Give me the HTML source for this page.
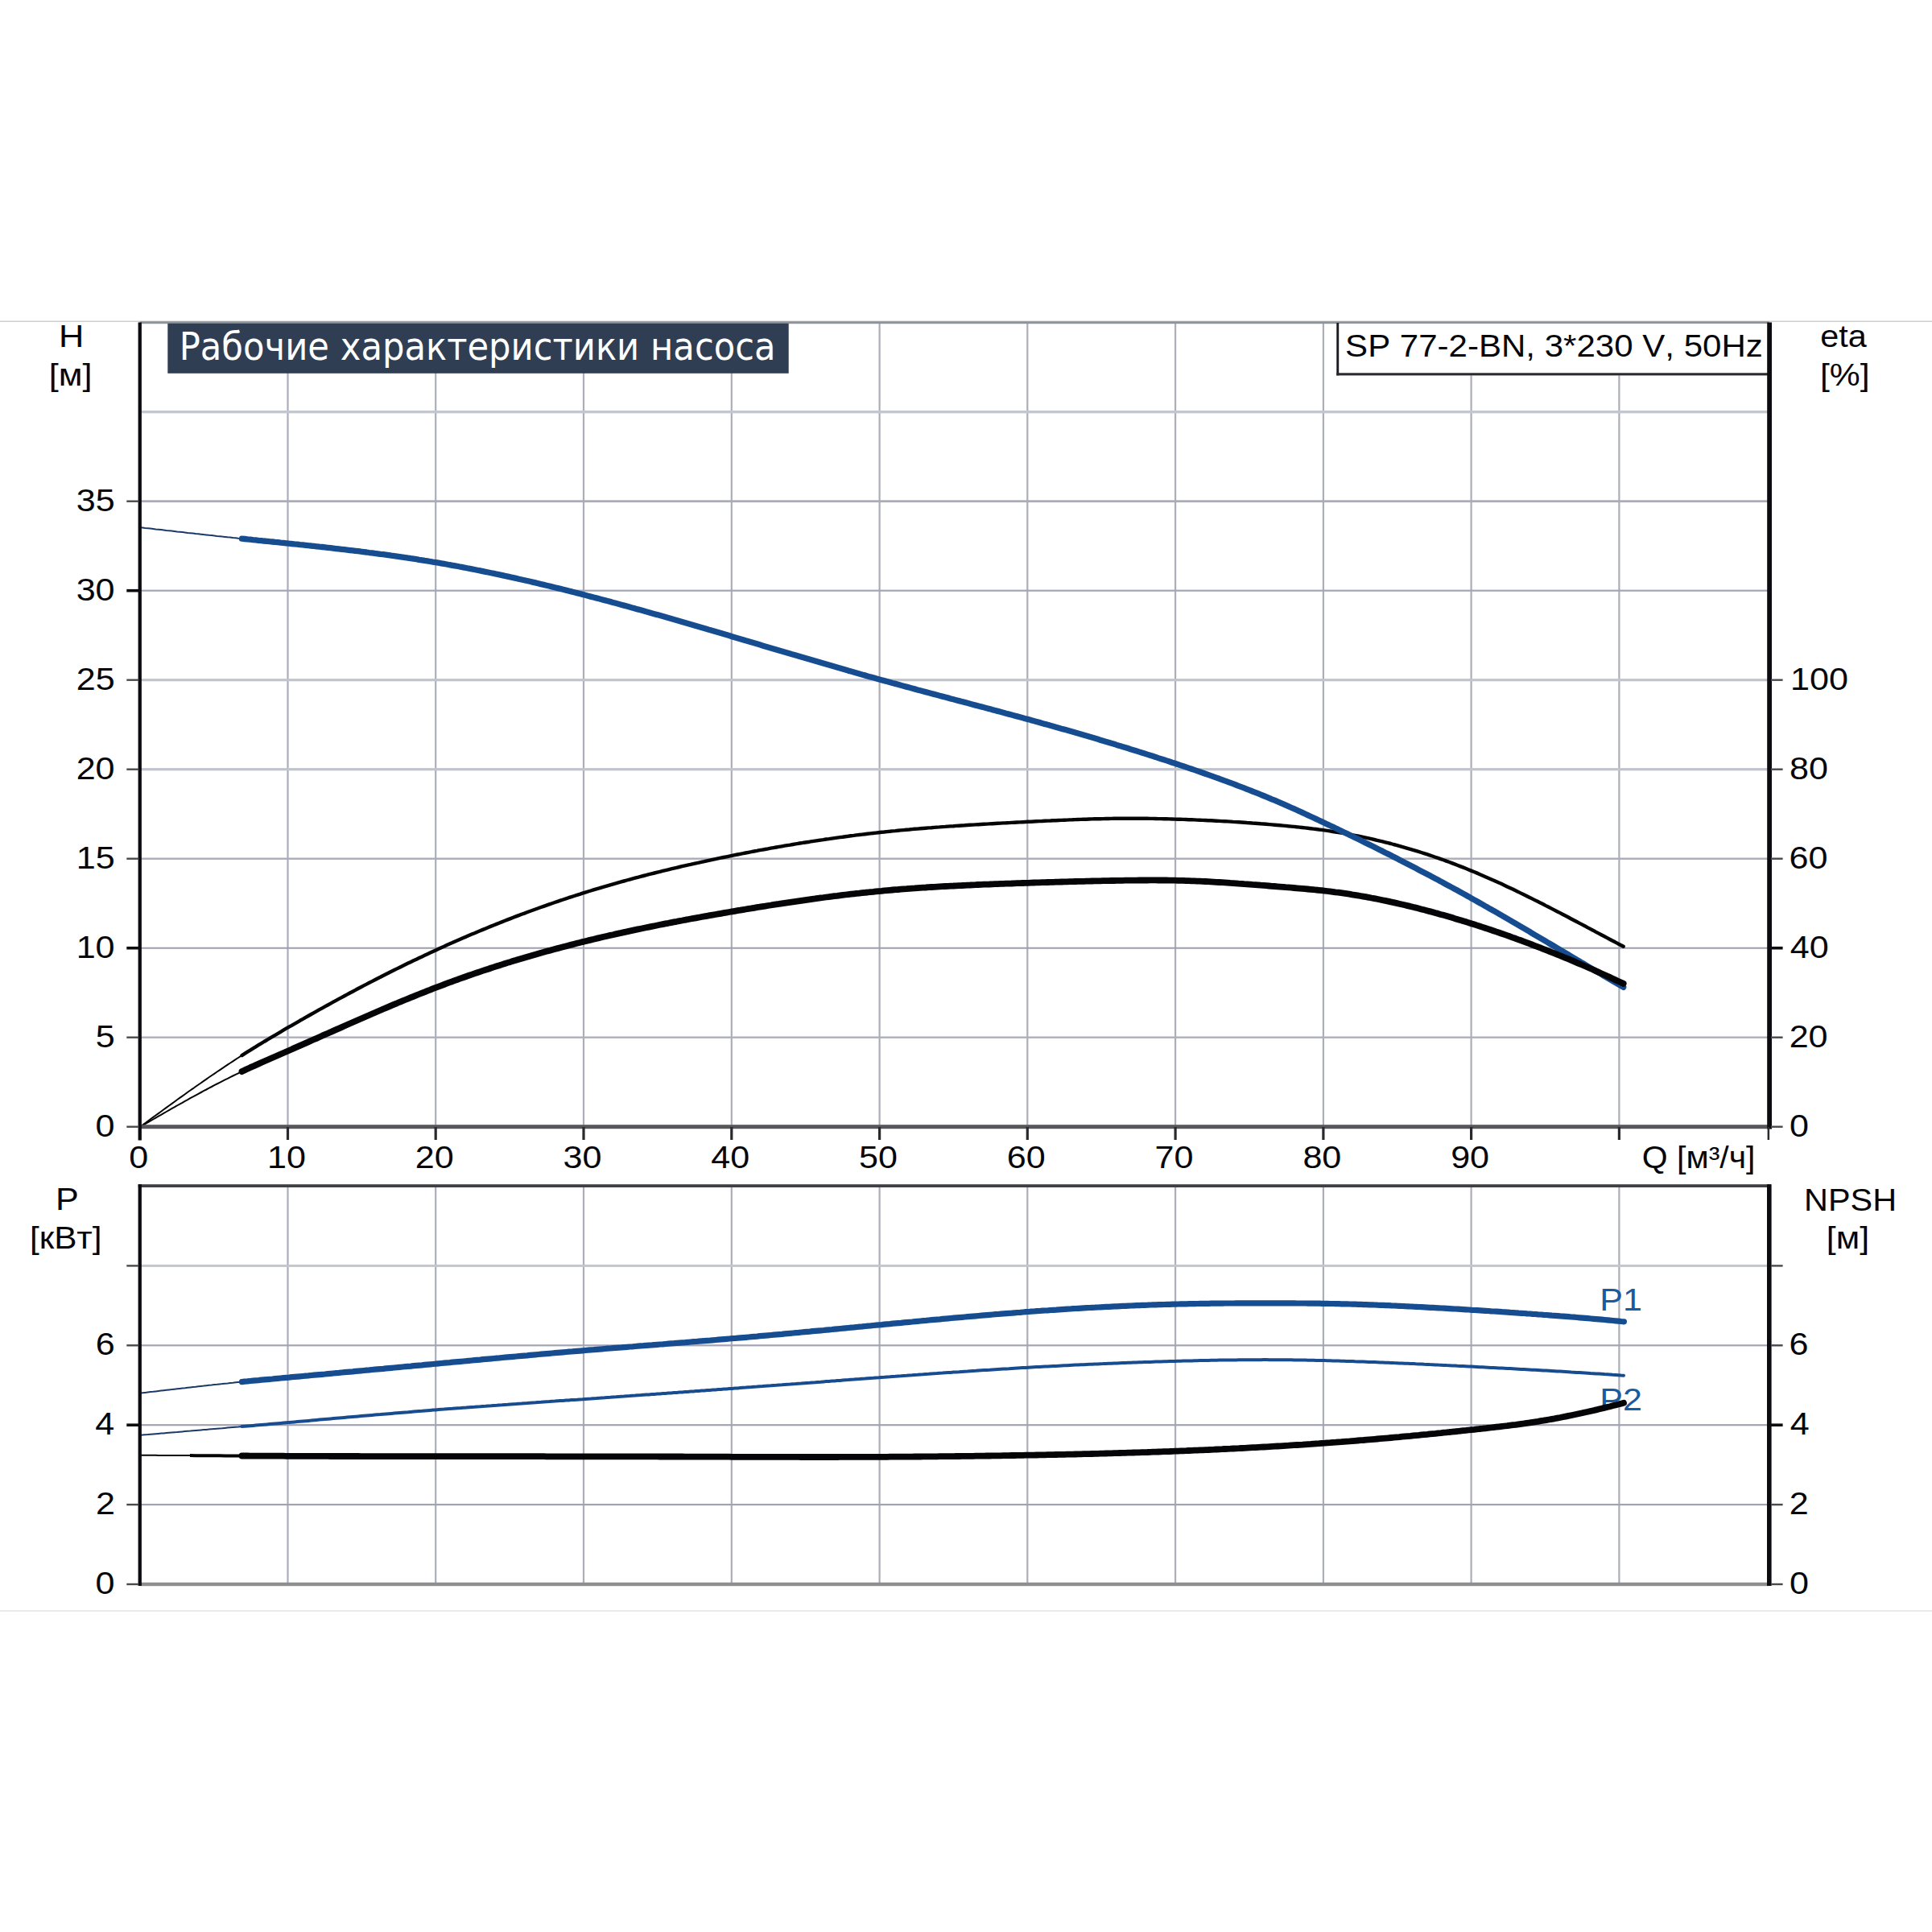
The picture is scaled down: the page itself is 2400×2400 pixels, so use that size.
<!DOCTYPE html>
<html lang="ru"><head><meta charset="utf-8"><title>Рабочие характеристики насоса</title>
<style>html,body{margin:0;padding:0;background:#fff;overflow:hidden}svg{display:block}</style></head>
<body>
<svg width="2400" height="2400" viewBox="0 0 2400 2400">
<rect width="2400" height="2400" fill="#ffffff"/>
<rect x="0" y="398.5" width="2400" height="1.5" fill="#c9d0d4"/>
<rect x="0" y="2000.3" width="2400" height="1.6" fill="#e3e6e9"/>
<rect x="356.4" y="400.5" width="2.2" height="999.2" fill="#abaeb9"/>
<rect x="540.1" y="400.5" width="2.2" height="999.2" fill="#abaeb9"/>
<rect x="723.9" y="400.5" width="2.2" height="999.2" fill="#abaeb9"/>
<rect x="907.7" y="400.5" width="2.2" height="999.2" fill="#abaeb9"/>
<rect x="1091.5" y="400.5" width="2.2" height="999.2" fill="#abaeb9"/>
<rect x="1275.2" y="400.5" width="2.2" height="999.2" fill="#abaeb9"/>
<rect x="1459.0" y="400.5" width="2.2" height="999.2" fill="#abaeb9"/>
<rect x="1642.8" y="400.5" width="2.2" height="999.2" fill="#abaeb9"/>
<rect x="1826.5" y="400.5" width="2.2" height="999.2" fill="#abaeb9"/>
<rect x="2010.3" y="400.5" width="2.2" height="999.2" fill="#abaeb9"/>
<rect x="173.7" y="1287.5" width="2024.1" height="2.4" fill="#adb0bc"/>
<rect x="173.7" y="1176.7" width="2024.1" height="2.0" fill="#9b9dab"/>
<rect x="173.7" y="1065.5" width="2024.1" height="2.4" fill="#aaadb9"/>
<rect x="173.7" y="954.1" width="2024.1" height="3.2" fill="#c0c4cd"/>
<rect x="173.7" y="843.1" width="2024.1" height="3.2" fill="#c0c4cd"/>
<rect x="173.7" y="732.6" width="2024.1" height="2.2" fill="#a3a6b3"/>
<rect x="173.7" y="621.3" width="2024.1" height="2.8" fill="#a9acb8"/>
<rect x="173.7" y="510.0" width="2024.1" height="3.4" fill="#c3c7d0"/>
<rect x="173.7" y="399.2" width="2024.1" height="3" fill="#8e9499"/>
<rect x="356.4" y="1472.4" width="2.2" height="495.6" fill="#abaeb9"/>
<rect x="540.1" y="1472.4" width="2.2" height="495.6" fill="#abaeb9"/>
<rect x="723.9" y="1472.4" width="2.2" height="495.6" fill="#abaeb9"/>
<rect x="907.7" y="1472.4" width="2.2" height="495.6" fill="#abaeb9"/>
<rect x="1091.5" y="1472.4" width="2.2" height="495.6" fill="#abaeb9"/>
<rect x="1275.2" y="1472.4" width="2.2" height="495.6" fill="#abaeb9"/>
<rect x="1459.0" y="1472.4" width="2.2" height="495.6" fill="#abaeb9"/>
<rect x="1642.8" y="1472.4" width="2.2" height="495.6" fill="#abaeb9"/>
<rect x="1826.5" y="1472.4" width="2.2" height="495.6" fill="#abaeb9"/>
<rect x="2010.3" y="1472.4" width="2.2" height="495.6" fill="#abaeb9"/>
<rect x="173.7" y="1868.0" width="2024.1" height="2.2" fill="#a1a3b1"/>
<rect x="173.7" y="1769.1" width="2024.1" height="2.2" fill="#a1a3b1"/>
<rect x="173.7" y="1670.2" width="2024.1" height="2.2" fill="#a3a5b2"/>
<rect x="173.7" y="1570.9" width="2024.1" height="3.0" fill="#c2c6cf"/>
<rect x="208.3" y="401.8" width="771.4" height="62" fill="#2f3e53"/>
<rect x="1660.3" y="402" width="536" height="64.4" fill="#ffffff"/>
<rect x="1660.3" y="401" width="2.9" height="65.4" fill="#1c1c20"/>
<rect x="1660.3" y="463.3" width="536" height="3.1" fill="#2a2a2e"/>
<text transform="translate(1987.36,1627.6) scale(1.1342,1)" font-size="38" fill="#1a5aa0" font-family='"Liberation Sans", sans-serif' style="font-kerning:none" >P1</text>
<text transform="translate(1987.36,1752.0) scale(1.1342,1)" font-size="38" fill="#1a5aa0" font-family='"Liberation Sans", sans-serif' style="font-kerning:none" >P2</text>
<path d="M173.7,1400.0 L177.0,1397.6 L180.3,1395.2 L183.6,1392.7 L186.9,1390.3 L190.2,1387.9 L193.5,1385.5 L196.8,1383.1 L200.1,1380.7 L203.4,1378.3 L206.7,1375.9 L210.0,1373.5 L213.3,1371.1 L216.6,1368.7 L219.9,1366.3 L223.2,1363.9 L226.5,1361.6 L229.8,1359.2 L233.1,1356.8 L236.4,1354.5 L239.8,1352.2 L243.1,1349.8 L246.4,1347.5 L249.7,1345.2 L253.0,1342.9 L256.3,1340.6 L259.6,1338.3 L262.9,1336.0 L266.2,1333.8 L269.5,1331.5 L272.8,1329.3 L276.1,1327.1 L279.4,1324.9 L282.7,1322.7 L286.0,1320.5 L289.3,1318.3 L292.6,1316.2 L295.9,1314.0 L299.2,1311.9 L302.5,1309.8" fill="none" stroke="#050507" stroke-width="2.0"/>
<path d="M300.5,1311.1 L303.9,1308.9 L307.4,1306.7 L310.8,1304.6 L314.3,1302.4 L317.7,1300.3 L321.1,1298.2 L324.6,1296.1 L328.0,1294.0 L331.5,1292.0 L334.9,1289.9 L338.3,1287.8 L341.8,1285.8 L345.2,1283.8 L348.6,1281.8 L352.1,1279.7 L355.5,1277.7 L359.0,1275.7 L362.4,1273.8 L365.8,1271.8 L369.3,1269.8 L372.7,1267.8 L376.2,1265.9 L379.6,1263.9 L383.0,1262.0 L386.5,1260.0 L389.9,1258.1 L393.4,1256.1 L396.8,1254.2 L400.2,1252.3 L403.7,1250.4 L407.1,1248.5 L410.6,1246.6 L414.0,1244.7 L417.4,1242.8 L420.9,1240.9 L424.3,1239.1 L427.8,1237.2 L431.2,1235.4 L434.6,1233.5 L438.1,1231.7 L441.5,1229.9 L444.9,1228.0 L448.4,1226.2 L451.8,1224.4 L455.3,1222.6 L458.7,1220.8 L462.1,1219.1 L465.6,1217.3 L469.0,1215.5 L472.5,1213.8 L475.9,1212.0 L479.3,1210.3 L482.8,1208.5 L486.2,1206.8 L489.7,1205.1 L493.1,1203.4 L496.5,1201.7 L500.0,1200.0 L503.4,1198.3 L506.9,1196.6 L510.3,1195.0 L513.7,1193.3 L517.2,1191.7 L520.6,1190.0 L524.1,1188.4 L527.5,1186.8 L530.9,1185.2 L534.4,1183.6 L537.8,1182.0 L541.2,1180.4 L544.7,1178.8 L548.1,1177.2 L551.6,1175.7 L555.0,1174.1 L558.4,1172.6 L561.9,1171.1 L565.3,1169.5 L568.8,1168.0 L572.2,1166.5 L575.6,1165.0 L579.1,1163.6 L582.5,1162.1 L586.0,1160.6 L589.4,1159.2 L592.8,1157.7 L596.3,1156.3 L599.7,1154.9 L603.2,1153.4 L606.6,1152.0 L610.0,1150.6 L613.5,1149.2 L616.9,1147.9 L620.4,1146.5 L623.8,1145.1 L627.2,1143.8 L630.7,1142.4 L634.1,1141.1 L637.5,1139.8 L641.0,1138.4 L644.4,1137.1 L647.9,1135.8 L651.3,1134.6 L654.7,1133.3 L658.2,1132.0 L661.6,1130.8 L665.1,1129.5 L668.5,1128.3 L671.9,1127.0 L675.4,1125.8 L678.8,1124.6 L682.3,1123.4 L685.7,1122.2 L689.1,1121.0 L692.6,1119.8 L696.0,1118.7 L699.5,1117.5 L702.9,1116.4 L706.3,1115.2 L709.8,1114.1 L713.2,1113.0 L716.7,1111.9 L720.1,1110.8 L723.5,1109.7 L727.0,1108.6 L730.4,1107.5 L733.8,1106.5 L737.3,1105.4 L740.7,1104.4 L744.2,1103.4 L747.6,1102.3 L751.0,1101.3 L754.5,1100.3 L757.9,1099.3 L761.4,1098.3 L764.8,1097.4 L768.2,1096.4 L771.7,1095.4 L775.1,1094.5 L778.6,1093.5 L782.0,1092.6 L785.4,1091.7 L788.9,1090.7 L792.3,1089.8 L795.8,1088.9 L799.2,1088.0 L802.6,1087.1 L806.1,1086.2 L809.5,1085.4 L813.0,1084.5 L816.4,1083.6 L819.8,1082.8 L823.3,1081.9 L826.7,1081.1 L830.1,1080.3 L833.6,1079.4 L837.0,1078.6 L840.5,1077.8 L843.9,1077.0 L847.3,1076.2 L850.8,1075.4 L854.2,1074.6 L857.7,1073.9 L861.1,1073.1 L864.5,1072.3 L868.0,1071.6 L871.4,1070.8 L874.9,1070.1 L878.3,1069.3 L881.7,1068.6 L885.2,1067.8 L888.6,1067.1 L892.1,1066.4 L895.5,1065.7 L898.9,1065.0 L902.4,1064.3 L905.8,1063.6 L909.3,1062.9 L912.7,1062.2 L916.1,1061.5 L919.6,1060.8 L923.0,1060.2 L926.4,1059.5 L929.9,1058.8 L933.3,1058.2 L936.8,1057.5 L940.2,1056.9 L943.6,1056.2 L947.1,1055.6 L950.5,1055.0 L954.0,1054.4 L957.4,1053.7 L960.8,1053.1 L964.3,1052.5 L967.7,1051.9 L971.2,1051.3 L974.6,1050.7 L978.0,1050.1 L981.5,1049.6 L984.9,1049.0 L988.4,1048.4 L991.8,1047.8 L995.2,1047.3 L998.7,1046.7 L1002.1,1046.2 L1005.6,1045.7 L1009.0,1045.1 L1012.4,1044.6 L1015.9,1044.1 L1019.3,1043.6 L1022.7,1043.1 L1026.2,1042.5 L1029.6,1042.1 L1033.1,1041.6 L1036.5,1041.1 L1039.9,1040.6 L1043.4,1040.1 L1046.8,1039.7 L1050.3,1039.2 L1053.7,1038.8 L1057.1,1038.3 L1060.6,1037.9 L1064.0,1037.4 L1067.5,1037.0 L1070.9,1036.6 L1074.3,1036.2 L1077.8,1035.8 L1081.2,1035.4 L1084.7,1035.0 L1088.1,1034.6 L1091.5,1034.2 L1095.0,1033.8 L1098.4,1033.5 L1101.9,1033.1 L1105.3,1032.8 L1108.7,1032.4 L1112.2,1032.1 L1115.6,1031.7 L1119.0,1031.4 L1122.5,1031.1 L1125.9,1030.8 L1129.4,1030.5 L1132.8,1030.1 L1136.2,1029.8 L1139.7,1029.6 L1143.1,1029.3 L1146.6,1029.0 L1150.0,1028.7 L1153.4,1028.4 L1156.9,1028.2 L1160.3,1027.9 L1163.8,1027.6 L1167.2,1027.4 L1170.6,1027.1 L1174.1,1026.9 L1177.5,1026.6 L1181.0,1026.4 L1184.4,1026.2 L1187.8,1025.9 L1191.3,1025.7 L1194.7,1025.5 L1198.2,1025.3 L1201.6,1025.0 L1205.0,1024.8 L1208.5,1024.6 L1211.9,1024.4 L1215.3,1024.2 L1218.8,1024.0 L1222.2,1023.8 L1225.7,1023.6 L1229.1,1023.4 L1232.5,1023.2 L1236.0,1023.0 L1239.4,1022.8 L1242.9,1022.6 L1246.3,1022.4 L1249.7,1022.3 L1253.2,1022.1 L1256.6,1021.9 L1260.1,1021.7 L1263.5,1021.5 L1266.9,1021.4 L1270.4,1021.2 L1273.8,1021.0 L1277.3,1020.8 L1280.7,1020.7 L1284.1,1020.5 L1287.6,1020.3 L1291.0,1020.1 L1294.5,1020.0 L1297.9,1019.8 L1301.3,1019.6 L1304.8,1019.5 L1308.2,1019.3 L1311.6,1019.2 L1315.1,1019.0 L1318.5,1018.9 L1322.0,1018.7 L1325.4,1018.6 L1328.8,1018.4 L1332.3,1018.3 L1335.7,1018.1 L1339.2,1018.0 L1342.6,1017.9 L1346.0,1017.8 L1349.5,1017.7 L1352.9,1017.5 L1356.4,1017.4 L1359.8,1017.3 L1363.2,1017.3 L1366.7,1017.2 L1370.1,1017.1 L1373.6,1017.0 L1377.0,1017.0 L1380.4,1016.9 L1383.9,1016.8 L1387.3,1016.8 L1390.8,1016.8 L1394.2,1016.7 L1397.6,1016.7 L1401.1,1016.7 L1404.5,1016.7 L1407.9,1016.7 L1411.4,1016.7 L1414.8,1016.7 L1418.3,1016.8 L1421.7,1016.8 L1425.1,1016.8 L1428.6,1016.9 L1432.0,1016.9 L1435.5,1017.0 L1438.9,1017.1 L1442.3,1017.1 L1445.8,1017.2 L1449.2,1017.3 L1452.7,1017.4 L1456.1,1017.5 L1459.5,1017.6 L1463.0,1017.7 L1466.4,1017.8 L1469.9,1017.9 L1473.3,1018.0 L1476.7,1018.2 L1480.2,1018.3 L1483.6,1018.4 L1487.1,1018.6 L1490.5,1018.7 L1493.9,1018.9 L1497.4,1019.0 L1500.8,1019.2 L1504.2,1019.3 L1507.7,1019.5 L1511.1,1019.7 L1514.6,1019.9 L1518.0,1020.1 L1521.4,1020.2 L1524.9,1020.4 L1528.3,1020.6 L1531.8,1020.9 L1535.2,1021.1 L1538.6,1021.3 L1542.1,1021.5 L1545.5,1021.7 L1549.0,1022.0 L1552.4,1022.2 L1555.8,1022.5 L1559.3,1022.7 L1562.7,1023.0 L1566.2,1023.3 L1569.6,1023.5 L1573.0,1023.8 L1576.5,1024.1 L1579.9,1024.4 L1583.4,1024.7 L1586.8,1025.0 L1590.2,1025.3 L1593.7,1025.6 L1597.1,1025.9 L1600.5,1026.3 L1604.0,1026.6 L1607.4,1026.9 L1610.9,1027.3 L1614.3,1027.6 L1617.7,1028.0 L1621.2,1028.4 L1624.6,1028.8 L1628.1,1029.2 L1631.5,1029.6 L1634.9,1030.0 L1638.4,1030.5 L1641.8,1030.9 L1645.3,1031.4 L1648.7,1031.9 L1652.1,1032.4 L1655.6,1033.0 L1659.0,1033.5 L1662.5,1034.1 L1665.9,1034.6 L1669.3,1035.2 L1672.8,1035.9 L1676.2,1036.5 L1679.7,1037.1 L1683.1,1037.8 L1686.5,1038.5 L1690.0,1039.2 L1693.4,1039.9 L1696.8,1040.6 L1700.3,1041.4 L1703.7,1042.2 L1707.2,1043.0 L1710.6,1043.8 L1714.0,1044.6 L1717.5,1045.4 L1720.9,1046.3 L1724.4,1047.2 L1727.8,1048.0 L1731.2,1049.0 L1734.7,1049.9 L1738.1,1050.8 L1741.6,1051.8 L1745.0,1052.8 L1748.4,1053.8 L1751.9,1054.8 L1755.3,1055.8 L1758.8,1056.9 L1762.2,1057.9 L1765.6,1059.0 L1769.1,1060.1 L1772.5,1061.2 L1776.0,1062.4 L1779.4,1063.5 L1782.8,1064.7 L1786.3,1065.9 L1789.7,1067.1 L1793.1,1068.3 L1796.6,1069.6 L1800.0,1070.8 L1803.5,1072.1 L1806.9,1073.4 L1810.3,1074.7 L1813.8,1076.1 L1817.2,1077.4 L1820.7,1078.8 L1824.1,1080.2 L1827.5,1081.6 L1831.0,1083.0 L1834.4,1084.4 L1837.9,1085.9 L1841.3,1087.4 L1844.7,1088.9 L1848.2,1090.4 L1851.6,1091.9 L1855.1,1093.4 L1858.5,1095.0 L1861.9,1096.6 L1865.4,1098.1 L1868.8,1099.7 L1872.3,1101.4 L1875.7,1103.0 L1879.1,1104.6 L1882.6,1106.3 L1886.0,1107.9 L1889.4,1109.6 L1892.9,1111.3 L1896.3,1113.0 L1899.8,1114.7 L1903.2,1116.4 L1906.6,1118.1 L1910.1,1119.8 L1913.5,1121.6 L1917.0,1123.3 L1920.4,1125.1 L1923.8,1126.8 L1927.3,1128.6 L1930.7,1130.4 L1934.2,1132.2 L1937.6,1133.9 L1941.0,1135.7 L1944.5,1137.5 L1947.9,1139.3 L1951.4,1141.2 L1954.8,1143.0 L1958.2,1144.8 L1961.7,1146.6 L1965.1,1148.4 L1968.6,1150.2 L1972.0,1152.1 L1975.4,1153.9 L1978.9,1155.7 L1982.3,1157.6 L1985.7,1159.4 L1989.2,1161.2 L1992.6,1163.0 L1996.1,1164.9 L1999.5,1166.7 L2002.9,1168.5 L2006.4,1170.3 L2009.8,1172.2 L2013.3,1174.0 L2016.7,1175.8" fill="none" stroke="#050507" stroke-width="4.4" stroke-linecap="round" stroke-linejoin="round"/>
<path d="M173.7,655.1 L177.0,655.5 L180.3,655.9 L183.6,656.2 L186.9,656.6 L190.2,657.0 L193.5,657.4 L196.8,657.7 L200.1,658.1 L203.4,658.5 L206.7,658.9 L210.0,659.2 L213.3,659.6 L216.6,660.0 L219.9,660.4 L223.2,660.7 L226.5,661.1 L229.8,661.5 L233.1,661.9 L236.4,662.2 L239.8,662.6 L243.1,663.0 L246.4,663.3 L249.7,663.7 L253.0,664.1 L256.3,664.4 L259.6,664.8 L262.9,665.1 L266.2,665.5 L269.5,665.9 L272.8,666.2 L276.1,666.6 L279.4,666.9 L282.7,667.3 L286.0,667.6 L289.3,668.0 L292.6,668.3 L295.9,668.7 L299.2,669.0 L302.5,669.4" fill="none" stroke="#1b3866" stroke-width="2.0"/>
<path d="M300.5,669.2 L303.9,669.5 L307.4,669.9 L310.8,670.2 L314.3,670.6 L317.7,670.9 L321.1,671.3 L324.6,671.6 L328.0,672.0 L331.5,672.3 L334.9,672.7 L338.3,673.0 L341.8,673.4 L345.2,673.7 L348.6,674.1 L352.1,674.4 L355.5,674.8 L359.0,675.2 L362.4,675.5 L365.8,675.9 L369.3,676.2 L372.7,676.6 L376.2,676.9 L379.6,677.3 L383.0,677.7 L386.5,678.0 L389.9,678.4 L393.4,678.8 L396.8,679.2 L400.2,679.5 L403.7,679.9 L407.1,680.3 L410.6,680.7 L414.0,681.1 L417.4,681.5 L420.9,681.9 L424.3,682.3 L427.8,682.7 L431.2,683.1 L434.6,683.5 L438.1,683.9 L441.5,684.3 L444.9,684.7 L448.4,685.2 L451.8,685.6 L455.3,686.0 L458.7,686.5 L462.1,686.9 L465.6,687.4 L469.0,687.8 L472.5,688.3 L475.9,688.7 L479.3,689.2 L482.8,689.7 L486.2,690.2 L489.7,690.6 L493.1,691.1 L496.5,691.6 L500.0,692.1 L503.4,692.6 L506.9,693.1 L510.3,693.7 L513.7,694.2 L517.2,694.7 L520.6,695.3 L524.1,695.8 L527.5,696.4 L530.9,696.9 L534.4,697.5 L537.8,698.1 L541.2,698.6 L544.7,699.2 L548.1,699.8 L551.6,700.4 L555.0,701.0 L558.4,701.7 L561.9,702.3 L565.3,702.9 L568.8,703.5 L572.2,704.2 L575.6,704.8 L579.1,705.5 L582.5,706.2 L586.0,706.8 L589.4,707.5 L592.8,708.2 L596.3,708.9 L599.7,709.6 L603.2,710.3 L606.6,711.0 L610.0,711.7 L613.5,712.4 L616.9,713.2 L620.4,713.9 L623.8,714.6 L627.2,715.4 L630.7,716.1 L634.1,716.9 L637.5,717.6 L641.0,718.4 L644.4,719.2 L647.9,720.0 L651.3,720.7 L654.7,721.5 L658.2,722.3 L661.6,723.1 L665.1,723.9 L668.5,724.7 L671.9,725.6 L675.4,726.4 L678.8,727.2 L682.3,728.0 L685.7,728.9 L689.1,729.7 L692.6,730.6 L696.0,731.4 L699.5,732.3 L702.9,733.1 L706.3,734.0 L709.8,734.9 L713.2,735.7 L716.7,736.6 L720.1,737.5 L723.5,738.4 L727.0,739.3 L730.4,740.2 L733.8,741.1 L737.3,742.0 L740.7,742.9 L744.2,743.8 L747.6,744.7 L751.0,745.6 L754.5,746.5 L757.9,747.4 L761.4,748.4 L764.8,749.3 L768.2,750.2 L771.7,751.2 L775.1,752.1 L778.6,753.1 L782.0,754.0 L785.4,755.0 L788.9,755.9 L792.3,756.9 L795.8,757.8 L799.2,758.8 L802.6,759.8 L806.1,760.7 L809.5,761.7 L813.0,762.7 L816.4,763.6 L819.8,764.6 L823.3,765.6 L826.7,766.6 L830.1,767.6 L833.6,768.6 L837.0,769.5 L840.5,770.5 L843.9,771.5 L847.3,772.5 L850.8,773.5 L854.2,774.5 L857.7,775.5 L861.1,776.5 L864.5,777.5 L868.0,778.5 L871.4,779.5 L874.9,780.5 L878.3,781.5 L881.7,782.6 L885.2,783.6 L888.6,784.6 L892.1,785.6 L895.5,786.6 L898.9,787.6 L902.4,788.6 L905.8,789.6 L909.3,790.7 L912.7,791.7 L916.1,792.7 L919.6,793.7 L923.0,794.7 L926.4,795.8 L929.9,796.8 L933.3,797.8 L936.8,798.8 L940.2,799.8 L943.6,800.8 L947.1,801.9 L950.5,802.9 L954.0,803.9 L957.4,804.9 L960.8,805.9 L964.3,807.0 L967.7,808.0 L971.2,809.0 L974.6,810.0 L978.0,811.0 L981.5,812.0 L984.9,813.1 L988.4,814.1 L991.8,815.1 L995.2,816.1 L998.7,817.1 L1002.1,818.1 L1005.6,819.1 L1009.0,820.1 L1012.4,821.1 L1015.9,822.1 L1019.3,823.1 L1022.7,824.1 L1026.2,825.1 L1029.6,826.1 L1033.1,827.1 L1036.5,828.1 L1039.9,829.1 L1043.4,830.1 L1046.8,831.1 L1050.3,832.1 L1053.7,833.1 L1057.1,834.0 L1060.6,835.0 L1064.0,836.0 L1067.5,837.0 L1070.9,838.0 L1074.3,838.9 L1077.8,839.9 L1081.2,840.9 L1084.7,841.8 L1088.1,842.8 L1091.5,843.7 L1095.0,844.7 L1098.4,845.6 L1101.9,846.6 L1105.3,847.5 L1108.7,848.5 L1112.2,849.4 L1115.6,850.3 L1119.0,851.3 L1122.5,852.2 L1125.9,853.1 L1129.4,854.1 L1132.8,855.0 L1136.2,855.9 L1139.7,856.9 L1143.1,857.8 L1146.6,858.7 L1150.0,859.6 L1153.4,860.5 L1156.9,861.5 L1160.3,862.4 L1163.8,863.3 L1167.2,864.2 L1170.6,865.1 L1174.1,866.0 L1177.5,866.9 L1181.0,867.9 L1184.4,868.8 L1187.8,869.7 L1191.3,870.6 L1194.7,871.5 L1198.2,872.4 L1201.6,873.3 L1205.0,874.2 L1208.5,875.2 L1211.9,876.1 L1215.3,877.0 L1218.8,877.9 L1222.2,878.8 L1225.7,879.7 L1229.1,880.6 L1232.5,881.6 L1236.0,882.5 L1239.4,883.4 L1242.9,884.3 L1246.3,885.2 L1249.7,886.2 L1253.2,887.1 L1256.6,888.0 L1260.1,889.0 L1263.5,889.9 L1266.9,890.8 L1270.4,891.8 L1273.8,892.7 L1277.3,893.6 L1280.7,894.6 L1284.1,895.5 L1287.6,896.5 L1291.0,897.4 L1294.5,898.4 L1297.9,899.4 L1301.3,900.3 L1304.8,901.3 L1308.2,902.2 L1311.6,903.2 L1315.1,904.2 L1318.5,905.2 L1322.0,906.1 L1325.4,907.1 L1328.8,908.1 L1332.3,909.1 L1335.7,910.1 L1339.2,911.1 L1342.6,912.1 L1346.0,913.1 L1349.5,914.1 L1352.9,915.1 L1356.4,916.1 L1359.8,917.1 L1363.2,918.1 L1366.7,919.2 L1370.1,920.2 L1373.6,921.2 L1377.0,922.2 L1380.4,923.3 L1383.9,924.3 L1387.3,925.4 L1390.8,926.4 L1394.2,927.5 L1397.6,928.5 L1401.1,929.6 L1404.5,930.7 L1407.9,931.7 L1411.4,932.8 L1414.8,933.9 L1418.3,935.0 L1421.7,936.0 L1425.1,937.1 L1428.6,938.2 L1432.0,939.3 L1435.5,940.4 L1438.9,941.6 L1442.3,942.7 L1445.8,943.8 L1449.2,944.9 L1452.7,946.0 L1456.1,947.2 L1459.5,948.3 L1463.0,949.5 L1466.4,950.6 L1469.9,951.8 L1473.3,952.9 L1476.7,954.1 L1480.2,955.3 L1483.6,956.4 L1487.1,957.6 L1490.5,958.8 L1493.9,960.0 L1497.4,961.2 L1500.8,962.4 L1504.2,963.6 L1507.7,964.9 L1511.1,966.1 L1514.6,967.3 L1518.0,968.6 L1521.4,969.9 L1524.9,971.1 L1528.3,972.4 L1531.8,973.7 L1535.2,975.0 L1538.6,976.3 L1542.1,977.6 L1545.5,978.9 L1549.0,980.3 L1552.4,981.6 L1555.8,983.0 L1559.3,984.3 L1562.7,985.7 L1566.2,987.1 L1569.6,988.5 L1573.0,989.9 L1576.5,991.3 L1579.9,992.8 L1583.4,994.2 L1586.8,995.7 L1590.2,997.1 L1593.7,998.6 L1597.1,1000.1 L1600.5,1001.6 L1604.0,1003.2 L1607.4,1004.7 L1610.9,1006.3 L1614.3,1007.8 L1617.7,1009.4 L1621.2,1011.0 L1624.6,1012.6 L1628.1,1014.2 L1631.5,1015.8 L1634.9,1017.4 L1638.4,1019.0 L1641.8,1020.6 L1645.3,1022.2 L1648.7,1023.9 L1652.1,1025.5 L1655.6,1027.1 L1659.0,1028.8 L1662.5,1030.4 L1665.9,1032.1 L1669.3,1033.7 L1672.8,1035.4 L1676.2,1037.1 L1679.7,1038.7 L1683.1,1040.4 L1686.5,1042.1 L1690.0,1043.8 L1693.4,1045.5 L1696.8,1047.2 L1700.3,1048.9 L1703.7,1050.6 L1707.2,1052.3 L1710.6,1054.0 L1714.0,1055.7 L1717.5,1057.4 L1720.9,1059.2 L1724.4,1060.9 L1727.8,1062.6 L1731.2,1064.4 L1734.7,1066.1 L1738.1,1067.9 L1741.6,1069.7 L1745.0,1071.4 L1748.4,1073.2 L1751.9,1075.0 L1755.3,1076.8 L1758.8,1078.6 L1762.2,1080.4 L1765.6,1082.2 L1769.1,1084.0 L1772.5,1085.8 L1776.0,1087.6 L1779.4,1089.4 L1782.8,1091.3 L1786.3,1093.1 L1789.7,1094.9 L1793.1,1096.8 L1796.6,1098.7 L1800.0,1100.5 L1803.5,1102.4 L1806.9,1104.3 L1810.3,1106.1 L1813.8,1108.0 L1817.2,1109.9 L1820.7,1111.8 L1824.1,1113.7 L1827.5,1115.7 L1831.0,1117.6 L1834.4,1119.5 L1837.9,1121.5 L1841.3,1123.4 L1844.7,1125.4 L1848.2,1127.3 L1851.6,1129.3 L1855.1,1131.2 L1858.5,1133.2 L1861.9,1135.2 L1865.4,1137.2 L1868.8,1139.2 L1872.3,1141.2 L1875.7,1143.1 L1879.1,1145.1 L1882.6,1147.2 L1886.0,1149.2 L1889.4,1151.2 L1892.9,1153.2 L1896.3,1155.2 L1899.8,1157.2 L1903.2,1159.3 L1906.6,1161.3 L1910.1,1163.3 L1913.5,1165.3 L1917.0,1167.4 L1920.4,1169.4 L1923.8,1171.5 L1927.3,1173.5 L1930.7,1175.5 L1934.2,1177.6 L1937.6,1179.6 L1941.0,1181.7 L1944.5,1183.7 L1947.9,1185.7 L1951.4,1187.8 L1954.8,1189.8 L1958.2,1191.9 L1961.7,1193.9 L1965.1,1196.0 L1968.6,1198.0 L1972.0,1200.1 L1975.4,1202.1 L1978.9,1204.1 L1982.3,1206.2 L1985.7,1208.2 L1989.2,1210.2 L1992.6,1212.3 L1996.1,1214.3 L1999.5,1216.3 L2002.9,1218.3 L2006.4,1220.4 L2009.8,1222.4 L2013.3,1224.4 L2016.7,1226.4" fill="none" stroke="#164c90" stroke-width="7.3" stroke-linecap="round" stroke-linejoin="round"/>
<path d="M173.7,1400.0 L177.0,1398.1 L180.3,1396.2 L183.6,1394.3 L186.9,1392.4 L190.2,1390.5 L193.5,1388.6 L196.8,1386.7 L200.1,1384.8 L203.4,1382.9 L206.7,1381.0 L210.0,1379.1 L213.3,1377.2 L216.6,1375.3 L219.9,1373.5 L223.2,1371.6 L226.5,1369.8 L229.8,1367.9 L233.1,1366.1 L236.4,1364.2 L239.8,1362.4 L243.1,1360.6 L246.4,1358.8 L249.7,1357.0 L253.0,1355.2 L256.3,1353.5 L259.6,1351.7 L262.9,1350.0 L266.2,1348.2 L269.5,1346.5 L272.8,1344.8 L276.1,1343.1 L279.4,1341.4 L282.7,1339.8 L286.0,1338.1 L289.3,1336.5 L292.6,1334.9 L295.9,1333.3 L299.2,1331.7 L302.5,1330.1" fill="none" stroke="#050507" stroke-width="2.0"/>
<path d="M300.5,1331.1 L303.9,1329.4 L307.4,1327.8 L310.8,1326.2 L314.3,1324.7 L317.7,1323.1 L321.1,1321.6 L324.6,1320.0 L328.0,1318.5 L331.5,1317.0 L334.9,1315.5 L338.3,1314.0 L341.8,1312.5 L345.2,1311.0 L348.6,1309.5 L352.1,1308.0 L355.5,1306.5 L359.0,1305.0 L362.4,1303.5 L365.8,1301.9 L369.3,1300.4 L372.7,1298.9 L376.2,1297.4 L379.6,1295.9 L383.0,1294.4 L386.5,1292.8 L389.9,1291.3 L393.4,1289.8 L396.8,1288.3 L400.2,1286.7 L403.7,1285.2 L407.1,1283.7 L410.6,1282.2 L414.0,1280.6 L417.4,1279.1 L420.9,1277.6 L424.3,1276.1 L427.8,1274.5 L431.2,1273.0 L434.6,1271.5 L438.1,1270.0 L441.5,1268.5 L444.9,1267.0 L448.4,1265.5 L451.8,1264.0 L455.3,1262.5 L458.7,1261.0 L462.1,1259.5 L465.6,1258.0 L469.0,1256.5 L472.5,1255.0 L475.9,1253.5 L479.3,1252.1 L482.8,1250.6 L486.2,1249.2 L489.7,1247.7 L493.1,1246.3 L496.5,1244.8 L500.0,1243.4 L503.4,1242.0 L506.9,1240.6 L510.3,1239.2 L513.7,1237.8 L517.2,1236.4 L520.6,1235.0 L524.1,1233.6 L527.5,1232.3 L530.9,1230.9 L534.4,1229.6 L537.8,1228.2 L541.2,1226.9 L544.7,1225.6 L548.1,1224.3 L551.6,1223.0 L555.0,1221.7 L558.4,1220.4 L561.9,1219.2 L565.3,1217.9 L568.8,1216.7 L572.2,1215.4 L575.6,1214.2 L579.1,1213.0 L582.5,1211.8 L586.0,1210.6 L589.4,1209.4 L592.8,1208.3 L596.3,1207.1 L599.7,1205.9 L603.2,1204.8 L606.6,1203.7 L610.0,1202.5 L613.5,1201.4 L616.9,1200.3 L620.4,1199.2 L623.8,1198.1 L627.2,1197.0 L630.7,1195.9 L634.1,1194.9 L637.5,1193.8 L641.0,1192.8 L644.4,1191.7 L647.9,1190.7 L651.3,1189.7 L654.7,1188.7 L658.2,1187.7 L661.6,1186.7 L665.1,1185.7 L668.5,1184.7 L671.9,1183.7 L675.4,1182.8 L678.8,1181.8 L682.3,1180.9 L685.7,1179.9 L689.1,1179.0 L692.6,1178.1 L696.0,1177.2 L699.5,1176.3 L702.9,1175.4 L706.3,1174.5 L709.8,1173.6 L713.2,1172.7 L716.7,1171.8 L720.1,1171.0 L723.5,1170.1 L727.0,1169.3 L730.4,1168.4 L733.8,1167.6 L737.3,1166.8 L740.7,1165.9 L744.2,1165.1 L747.6,1164.3 L751.0,1163.5 L754.5,1162.7 L757.9,1161.9 L761.4,1161.2 L764.8,1160.4 L768.2,1159.6 L771.7,1158.9 L775.1,1158.1 L778.6,1157.4 L782.0,1156.6 L785.4,1155.9 L788.9,1155.1 L792.3,1154.4 L795.8,1153.7 L799.2,1153.0 L802.6,1152.3 L806.1,1151.6 L809.5,1150.9 L813.0,1150.2 L816.4,1149.5 L819.8,1148.8 L823.3,1148.1 L826.7,1147.4 L830.1,1146.8 L833.6,1146.1 L837.0,1145.4 L840.5,1144.8 L843.9,1144.1 L847.3,1143.5 L850.8,1142.8 L854.2,1142.2 L857.7,1141.5 L861.1,1140.9 L864.5,1140.3 L868.0,1139.7 L871.4,1139.0 L874.9,1138.4 L878.3,1137.8 L881.7,1137.2 L885.2,1136.6 L888.6,1136.0 L892.1,1135.4 L895.5,1134.8 L898.9,1134.2 L902.4,1133.6 L905.8,1133.0 L909.3,1132.4 L912.7,1131.8 L916.1,1131.2 L919.6,1130.7 L923.0,1130.1 L926.4,1129.5 L929.9,1128.9 L933.3,1128.4 L936.8,1127.8 L940.2,1127.2 L943.6,1126.7 L947.1,1126.1 L950.5,1125.6 L954.0,1125.0 L957.4,1124.5 L960.8,1123.9 L964.3,1123.4 L967.7,1122.9 L971.2,1122.3 L974.6,1121.8 L978.0,1121.3 L981.5,1120.8 L984.9,1120.3 L988.4,1119.8 L991.8,1119.3 L995.2,1118.8 L998.7,1118.3 L1002.1,1117.8 L1005.6,1117.3 L1009.0,1116.8 L1012.4,1116.4 L1015.9,1115.9 L1019.3,1115.4 L1022.7,1115.0 L1026.2,1114.5 L1029.6,1114.1 L1033.1,1113.6 L1036.5,1113.2 L1039.9,1112.8 L1043.4,1112.3 L1046.8,1111.9 L1050.3,1111.5 L1053.7,1111.1 L1057.1,1110.7 L1060.6,1110.3 L1064.0,1109.9 L1067.5,1109.6 L1070.9,1109.2 L1074.3,1108.8 L1077.8,1108.5 L1081.2,1108.1 L1084.7,1107.8 L1088.1,1107.4 L1091.5,1107.1 L1095.0,1106.8 L1098.4,1106.4 L1101.9,1106.1 L1105.3,1105.8 L1108.7,1105.5 L1112.2,1105.2 L1115.6,1105.0 L1119.0,1104.7 L1122.5,1104.4 L1125.9,1104.2 L1129.4,1103.9 L1132.8,1103.6 L1136.2,1103.4 L1139.7,1103.1 L1143.1,1102.9 L1146.6,1102.7 L1150.0,1102.5 L1153.4,1102.2 L1156.9,1102.0 L1160.3,1101.8 L1163.8,1101.6 L1167.2,1101.4 L1170.6,1101.2 L1174.1,1101.0 L1177.5,1100.8 L1181.0,1100.6 L1184.4,1100.5 L1187.8,1100.3 L1191.3,1100.1 L1194.7,1100.0 L1198.2,1099.8 L1201.6,1099.6 L1205.0,1099.5 L1208.5,1099.3 L1211.9,1099.2 L1215.3,1099.0 L1218.8,1098.9 L1222.2,1098.7 L1225.7,1098.6 L1229.1,1098.5 L1232.5,1098.3 L1236.0,1098.2 L1239.4,1098.1 L1242.9,1097.9 L1246.3,1097.8 L1249.7,1097.7 L1253.2,1097.6 L1256.6,1097.5 L1260.1,1097.3 L1263.5,1097.2 L1266.9,1097.1 L1270.4,1097.0 L1273.8,1096.9 L1277.3,1096.8 L1280.7,1096.6 L1284.1,1096.5 L1287.6,1096.4 L1291.0,1096.3 L1294.5,1096.2 L1297.9,1096.1 L1301.3,1096.0 L1304.8,1095.9 L1308.2,1095.8 L1311.6,1095.7 L1315.1,1095.6 L1318.5,1095.5 L1322.0,1095.4 L1325.4,1095.3 L1328.8,1095.2 L1332.3,1095.1 L1335.7,1095.0 L1339.2,1094.9 L1342.6,1094.8 L1346.0,1094.8 L1349.5,1094.7 L1352.9,1094.6 L1356.4,1094.5 L1359.8,1094.4 L1363.2,1094.4 L1366.7,1094.3 L1370.1,1094.2 L1373.6,1094.1 L1377.0,1094.1 L1380.4,1094.0 L1383.9,1094.0 L1387.3,1093.9 L1390.8,1093.8 L1394.2,1093.8 L1397.6,1093.7 L1401.1,1093.7 L1404.5,1093.6 L1407.9,1093.6 L1411.4,1093.6 L1414.8,1093.5 L1418.3,1093.5 L1421.7,1093.5 L1425.1,1093.5 L1428.6,1093.4 L1432.0,1093.4 L1435.5,1093.4 L1438.9,1093.5 L1442.3,1093.5 L1445.8,1093.5 L1449.2,1093.5 L1452.7,1093.6 L1456.1,1093.6 L1459.5,1093.7 L1463.0,1093.8 L1466.4,1093.9 L1469.9,1093.9 L1473.3,1094.1 L1476.7,1094.2 L1480.2,1094.3 L1483.6,1094.4 L1487.1,1094.6 L1490.5,1094.7 L1493.9,1094.9 L1497.4,1095.0 L1500.8,1095.2 L1504.2,1095.4 L1507.7,1095.6 L1511.1,1095.8 L1514.6,1096.0 L1518.0,1096.2 L1521.4,1096.4 L1524.9,1096.6 L1528.3,1096.9 L1531.8,1097.1 L1535.2,1097.3 L1538.6,1097.6 L1542.1,1097.8 L1545.5,1098.1 L1549.0,1098.3 L1552.4,1098.6 L1555.8,1098.9 L1559.3,1099.1 L1562.7,1099.4 L1566.2,1099.7 L1569.6,1099.9 L1573.0,1100.2 L1576.5,1100.5 L1579.9,1100.8 L1583.4,1101.0 L1586.8,1101.3 L1590.2,1101.6 L1593.7,1101.9 L1597.1,1102.2 L1600.5,1102.4 L1604.0,1102.7 L1607.4,1103.0 L1610.9,1103.3 L1614.3,1103.6 L1617.7,1103.9 L1621.2,1104.2 L1624.6,1104.5 L1628.1,1104.8 L1631.5,1105.1 L1634.9,1105.5 L1638.4,1105.8 L1641.8,1106.2 L1645.3,1106.6 L1648.7,1107.0 L1652.1,1107.4 L1655.6,1107.8 L1659.0,1108.3 L1662.5,1108.7 L1665.9,1109.2 L1669.3,1109.7 L1672.8,1110.2 L1676.2,1110.7 L1679.7,1111.3 L1683.1,1111.8 L1686.5,1112.4 L1690.0,1113.0 L1693.4,1113.6 L1696.8,1114.2 L1700.3,1114.8 L1703.7,1115.5 L1707.2,1116.1 L1710.6,1116.8 L1714.0,1117.5 L1717.5,1118.2 L1720.9,1118.9 L1724.4,1119.6 L1727.8,1120.4 L1731.2,1121.1 L1734.7,1121.9 L1738.1,1122.7 L1741.6,1123.5 L1745.0,1124.3 L1748.4,1125.1 L1751.9,1125.9 L1755.3,1126.8 L1758.8,1127.6 L1762.2,1128.5 L1765.6,1129.4 L1769.1,1130.3 L1772.5,1131.2 L1776.0,1132.1 L1779.4,1133.0 L1782.8,1134.0 L1786.3,1134.9 L1789.7,1135.9 L1793.1,1136.8 L1796.6,1137.8 L1800.0,1138.8 L1803.5,1139.8 L1806.9,1140.9 L1810.3,1141.9 L1813.8,1142.9 L1817.2,1144.0 L1820.7,1145.0 L1824.1,1146.1 L1827.5,1147.2 L1831.0,1148.3 L1834.4,1149.4 L1837.9,1150.5 L1841.3,1151.6 L1844.7,1152.7 L1848.2,1153.9 L1851.6,1155.0 L1855.1,1156.2 L1858.5,1157.4 L1861.9,1158.5 L1865.4,1159.7 L1868.8,1160.9 L1872.3,1162.1 L1875.7,1163.3 L1879.1,1164.6 L1882.6,1165.8 L1886.0,1167.1 L1889.4,1168.3 L1892.9,1169.6 L1896.3,1170.9 L1899.8,1172.2 L1903.2,1173.5 L1906.6,1174.8 L1910.1,1176.1 L1913.5,1177.4 L1917.0,1178.8 L1920.4,1180.1 L1923.8,1181.5 L1927.3,1182.8 L1930.7,1184.2 L1934.2,1185.6 L1937.6,1187.0 L1941.0,1188.4 L1944.5,1189.8 L1947.9,1191.2 L1951.4,1192.7 L1954.8,1194.1 L1958.2,1195.6 L1961.7,1197.1 L1965.1,1198.5 L1968.6,1200.0 L1972.0,1201.5 L1975.4,1203.0 L1978.9,1204.5 L1982.3,1206.1 L1985.7,1207.6 L1989.2,1209.2 L1992.6,1210.7 L1996.1,1212.3 L1999.5,1213.9 L2002.9,1215.5 L2006.4,1217.1 L2009.8,1218.7 L2013.3,1220.3 L2016.7,1221.9" fill="none" stroke="#050507" stroke-width="7.8" stroke-linecap="round" stroke-linejoin="round"/>
<path d="M173.7,1782.9 L177.0,1782.6 L180.3,1782.3 L183.6,1782.1 L186.9,1781.8 L190.2,1781.5 L193.5,1781.2 L196.8,1780.9 L200.1,1780.6 L203.4,1780.4 L206.7,1780.1 L210.0,1779.8 L213.3,1779.5 L216.6,1779.2 L219.9,1779.0 L223.2,1778.7 L226.5,1778.4 L229.8,1778.1 L233.1,1777.8 L236.4,1777.6 L239.8,1777.3 L243.1,1777.0 L246.4,1776.7 L249.7,1776.4 L253.0,1776.1 L256.3,1775.9 L259.6,1775.6 L262.9,1775.3 L266.2,1775.0 L269.5,1774.7 L272.8,1774.4 L276.1,1774.2 L279.4,1773.9 L282.7,1773.6 L286.0,1773.3 L289.3,1773.0 L292.6,1772.7 L295.9,1772.5 L299.2,1772.2 L302.5,1771.9" fill="none" stroke="#1b3866" stroke-width="2.0"/>
<path d="M300.5,1772.1 L303.9,1771.8 L307.4,1771.5 L310.8,1771.2 L314.3,1770.9 L317.7,1770.6 L321.1,1770.3 L324.6,1770.0 L328.0,1769.7 L331.5,1769.4 L334.9,1769.1 L338.3,1768.8 L341.8,1768.5 L345.2,1768.2 L348.7,1767.9 L352.1,1767.6 L355.5,1767.3 L359.0,1767.0 L362.4,1766.7 L365.9,1766.4 L369.3,1766.1 L372.7,1765.8 L376.2,1765.5 L379.6,1765.2 L383.1,1764.9 L386.5,1764.6 L389.9,1764.2 L393.4,1763.9 L396.8,1763.6 L400.3,1763.3 L403.7,1763.0 L407.1,1762.7 L410.6,1762.4 L414.0,1762.1 L417.5,1761.8 L420.9,1761.5 L424.3,1761.2 L427.8,1760.9 L431.2,1760.6 L434.7,1760.3 L438.1,1760.0 L441.5,1759.7 L445.0,1759.4 L448.4,1759.1 L451.9,1758.8 L455.3,1758.5 L458.7,1758.2 L462.2,1757.9 L465.6,1757.6 L469.1,1757.3 L472.5,1757.1 L475.9,1756.8 L479.4,1756.5 L482.8,1756.2 L486.3,1755.9 L489.7,1755.6 L493.1,1755.3 L496.6,1755.0 L500.0,1754.7 L503.5,1754.4 L506.9,1754.2 L510.3,1753.9 L513.8,1753.6 L517.2,1753.3 L520.7,1753.0 L524.1,1752.8 L527.5,1752.5 L531.0,1752.2 L534.4,1751.9 L537.9,1751.6 L541.3,1751.4 L544.7,1751.1 L548.2,1750.8 L551.6,1750.6 L555.1,1750.3 L558.5,1750.0 L561.9,1749.8 L565.4,1749.5 L568.8,1749.2 L572.3,1749.0 L575.7,1748.7 L579.1,1748.5 L582.6,1748.2 L586.0,1747.9 L589.4,1747.7 L592.9,1747.4 L596.3,1747.2 L599.8,1746.9 L603.2,1746.7 L606.6,1746.4 L610.1,1746.2 L613.5,1745.9 L617.0,1745.7 L620.4,1745.4 L623.8,1745.2 L627.3,1744.9 L630.7,1744.7 L634.2,1744.4 L637.6,1744.2 L641.0,1744.0 L644.5,1743.7 L647.9,1743.5 L651.4,1743.2 L654.8,1743.0 L658.2,1742.7 L661.7,1742.5 L665.1,1742.3 L668.6,1742.0 L672.0,1741.8 L675.4,1741.5 L678.9,1741.3 L682.3,1741.1 L685.8,1740.8 L689.2,1740.6 L692.6,1740.3 L696.1,1740.1 L699.5,1739.9 L703.0,1739.6 L706.4,1739.4 L709.8,1739.1 L713.3,1738.9 L716.7,1738.7 L720.2,1738.4 L723.6,1738.2 L727.0,1737.9 L730.5,1737.7 L733.9,1737.5 L737.4,1737.2 L740.8,1737.0 L744.2,1736.7 L747.7,1736.5 L751.1,1736.3 L754.6,1736.0 L758.0,1735.8 L761.4,1735.5 L764.9,1735.3 L768.3,1735.0 L771.8,1734.8 L775.2,1734.6 L778.6,1734.3 L782.1,1734.1 L785.5,1733.8 L789.0,1733.6 L792.4,1733.3 L795.8,1733.1 L799.3,1732.8 L802.7,1732.6 L806.2,1732.4 L809.6,1732.1 L813.0,1731.9 L816.5,1731.6 L819.9,1731.4 L823.4,1731.1 L826.8,1730.9 L830.2,1730.6 L833.7,1730.4 L837.1,1730.1 L840.6,1729.9 L844.0,1729.6 L847.4,1729.4 L850.9,1729.1 L854.3,1728.9 L857.8,1728.6 L861.2,1728.4 L864.6,1728.1 L868.1,1727.9 L871.5,1727.6 L875.0,1727.4 L878.4,1727.1 L881.8,1726.9 L885.3,1726.6 L888.7,1726.4 L892.2,1726.1 L895.6,1725.9 L899.0,1725.6 L902.5,1725.4 L905.9,1725.1 L909.4,1724.9 L912.8,1724.6 L916.2,1724.4 L919.7,1724.1 L923.1,1723.8 L926.6,1723.6 L930.0,1723.3 L933.4,1723.1 L936.9,1722.8 L940.3,1722.6 L943.8,1722.3 L947.2,1722.1 L950.6,1721.8 L954.1,1721.5 L957.5,1721.3 L961.0,1721.0 L964.4,1720.8 L967.8,1720.5 L971.3,1720.3 L974.7,1720.0 L978.2,1719.7 L981.6,1719.5 L985.0,1719.2 L988.5,1719.0 L991.9,1718.7 L995.4,1718.5 L998.8,1718.2 L1002.2,1717.9 L1005.7,1717.7 L1009.1,1717.4 L1012.6,1717.2 L1016.0,1716.9 L1019.4,1716.7 L1022.9,1716.4 L1026.3,1716.1 L1029.8,1715.9 L1033.2,1715.6 L1036.6,1715.4 L1040.1,1715.1 L1043.5,1714.9 L1047.0,1714.6 L1050.4,1714.3 L1053.8,1714.1 L1057.3,1713.8 L1060.7,1713.6 L1064.2,1713.3 L1067.6,1713.1 L1071.0,1712.8 L1074.5,1712.6 L1077.9,1712.3 L1081.4,1712.0 L1084.8,1711.8 L1088.2,1711.5 L1091.7,1711.3 L1095.1,1711.0 L1098.6,1710.8 L1102.0,1710.5 L1105.4,1710.3 L1108.9,1710.0 L1112.3,1709.8 L1115.8,1709.5 L1119.2,1709.3 L1122.6,1709.0 L1126.1,1708.8 L1129.5,1708.5 L1133.0,1708.3 L1136.4,1708.0 L1139.8,1707.8 L1143.3,1707.5 L1146.7,1707.3 L1150.2,1707.0 L1153.6,1706.8 L1157.0,1706.5 L1160.5,1706.3 L1163.9,1706.1 L1167.3,1705.8 L1170.8,1705.6 L1174.2,1705.3 L1177.7,1705.1 L1181.1,1704.9 L1184.5,1704.6 L1188.0,1704.4 L1191.4,1704.2 L1194.9,1703.9 L1198.3,1703.7 L1201.7,1703.5 L1205.2,1703.2 L1208.6,1703.0 L1212.1,1702.8 L1215.5,1702.5 L1218.9,1702.3 L1222.4,1702.1 L1225.8,1701.9 L1229.3,1701.7 L1232.7,1701.4 L1236.1,1701.2 L1239.6,1701.0 L1243.0,1700.8 L1246.5,1700.6 L1249.9,1700.4 L1253.3,1700.2 L1256.8,1699.9 L1260.2,1699.7 L1263.7,1699.5 L1267.1,1699.3 L1270.5,1699.1 L1274.0,1698.9 L1277.4,1698.7 L1280.9,1698.5 L1284.3,1698.3 L1287.7,1698.1 L1291.2,1698.0 L1294.6,1697.8 L1298.1,1697.6 L1301.5,1697.4 L1304.9,1697.2 L1308.4,1697.0 L1311.8,1696.9 L1315.3,1696.7 L1318.7,1696.5 L1322.1,1696.3 L1325.6,1696.2 L1329.0,1696.0 L1332.5,1695.8 L1335.9,1695.6 L1339.3,1695.5 L1342.8,1695.3 L1346.2,1695.2 L1349.7,1695.0 L1353.1,1694.8 L1356.5,1694.7 L1360.0,1694.5 L1363.4,1694.4 L1366.9,1694.2 L1370.3,1694.1 L1373.7,1693.9 L1377.2,1693.8 L1380.6,1693.7 L1384.1,1693.5 L1387.5,1693.4 L1390.9,1693.2 L1394.4,1693.1 L1397.8,1693.0 L1401.3,1692.8 L1404.7,1692.7 L1408.1,1692.6 L1411.6,1692.5 L1415.0,1692.3 L1418.5,1692.2 L1421.9,1692.1 L1425.3,1692.0 L1428.8,1691.9 L1432.2,1691.7 L1435.7,1691.6 L1439.1,1691.5 L1442.5,1691.4 L1446.0,1691.3 L1449.4,1691.2 L1452.9,1691.1 L1456.3,1691.0 L1459.7,1690.9 L1463.2,1690.8 L1466.6,1690.7 L1470.1,1690.6 L1473.5,1690.5 L1476.9,1690.4 L1480.4,1690.4 L1483.8,1690.3 L1487.3,1690.2 L1490.7,1690.1 L1494.1,1690.0 L1497.6,1690.0 L1501.0,1689.9 L1504.5,1689.8 L1507.9,1689.8 L1511.3,1689.7 L1514.8,1689.6 L1518.2,1689.6 L1521.7,1689.5 L1525.1,1689.5 L1528.5,1689.4 L1532.0,1689.4 L1535.4,1689.4 L1538.9,1689.3 L1542.3,1689.3 L1545.7,1689.3 L1549.2,1689.2 L1552.6,1689.2 L1556.1,1689.2 L1559.5,1689.2 L1562.9,1689.2 L1566.4,1689.2 L1569.8,1689.1 L1573.3,1689.1 L1576.7,1689.2 L1580.1,1689.2 L1583.6,1689.2 L1587.0,1689.2 L1590.5,1689.2 L1593.9,1689.2 L1597.3,1689.3 L1600.8,1689.3 L1604.2,1689.3 L1607.7,1689.4 L1611.1,1689.4 L1614.5,1689.5 L1618.0,1689.6 L1621.4,1689.6 L1624.9,1689.7 L1628.3,1689.7 L1631.7,1689.8 L1635.2,1689.9 L1638.6,1690.0 L1642.1,1690.1 L1645.5,1690.1 L1648.9,1690.2 L1652.4,1690.3 L1655.8,1690.4 L1659.3,1690.5 L1662.7,1690.6 L1666.1,1690.7 L1669.6,1690.8 L1673.0,1690.9 L1676.5,1691.0 L1679.9,1691.1 L1683.3,1691.3 L1686.8,1691.4 L1690.2,1691.5 L1693.7,1691.6 L1697.1,1691.7 L1700.5,1691.9 L1704.0,1692.0 L1707.4,1692.1 L1710.9,1692.2 L1714.3,1692.4 L1717.7,1692.5 L1721.2,1692.7 L1724.6,1692.8 L1728.1,1692.9 L1731.5,1693.1 L1734.9,1693.2 L1738.4,1693.4 L1741.8,1693.5 L1745.2,1693.7 L1748.7,1693.8 L1752.1,1694.0 L1755.6,1694.1 L1759.0,1694.3 L1762.4,1694.4 L1765.9,1694.6 L1769.3,1694.8 L1772.8,1694.9 L1776.2,1695.1 L1779.6,1695.2 L1783.1,1695.4 L1786.5,1695.6 L1790.0,1695.7 L1793.4,1695.9 L1796.8,1696.1 L1800.3,1696.2 L1803.7,1696.4 L1807.2,1696.6 L1810.6,1696.8 L1814.0,1696.9 L1817.5,1697.1 L1820.9,1697.3 L1824.4,1697.5 L1827.8,1697.6 L1831.2,1697.8 L1834.7,1698.0 L1838.1,1698.2 L1841.6,1698.3 L1845.0,1698.5 L1848.4,1698.7 L1851.9,1698.9 L1855.3,1699.0 L1858.8,1699.2 L1862.2,1699.4 L1865.6,1699.6 L1869.1,1699.8 L1872.5,1700.0 L1876.0,1700.1 L1879.4,1700.3 L1882.8,1700.5 L1886.3,1700.7 L1889.7,1700.9 L1893.2,1701.1 L1896.6,1701.3 L1900.0,1701.5 L1903.5,1701.7 L1906.9,1701.8 L1910.4,1702.0 L1913.8,1702.2 L1917.2,1702.4 L1920.7,1702.6 L1924.1,1702.8 L1927.6,1703.0 L1931.0,1703.2 L1934.4,1703.4 L1937.9,1703.6 L1941.3,1703.8 L1944.8,1704.0 L1948.2,1704.2 L1951.6,1704.5 L1955.1,1704.7 L1958.5,1704.9 L1962.0,1705.1 L1965.4,1705.3 L1968.8,1705.5 L1972.3,1705.7 L1975.7,1706.0 L1979.2,1706.2 L1982.6,1706.4 L1986.0,1706.6 L1989.5,1706.8 L1992.9,1707.1 L1996.4,1707.3 L1999.8,1707.5 L2003.2,1707.8 L2006.7,1708.0 L2010.1,1708.2 L2013.6,1708.5 L2017.0,1708.7" fill="none" stroke="#184c90" stroke-width="4.0" stroke-linecap="round" stroke-linejoin="round"/>
<path d="M173.7,1730.7 L177.0,1730.3 L180.3,1729.9 L183.6,1729.5 L186.9,1729.1 L190.2,1728.8 L193.5,1728.4 L196.8,1728.0 L200.1,1727.6 L203.4,1727.2 L206.7,1726.8 L210.0,1726.4 L213.3,1726.1 L216.6,1725.7 L219.9,1725.3 L223.2,1724.9 L226.5,1724.5 L229.8,1724.2 L233.1,1723.8 L236.4,1723.4 L239.8,1723.0 L243.1,1722.7 L246.4,1722.3 L249.7,1721.9 L253.0,1721.6 L256.3,1721.2 L259.6,1720.8 L262.9,1720.5 L266.2,1720.1 L269.5,1719.8 L272.8,1719.4 L276.1,1719.1 L279.4,1718.7 L282.7,1718.4 L286.0,1718.0 L289.3,1717.7 L292.6,1717.3 L295.9,1717.0 L299.2,1716.7 L302.5,1716.4" fill="none" stroke="#1b3866" stroke-width="2.0"/>
<path d="M300.5,1716.6 L303.9,1716.2 L307.4,1715.9 L310.8,1715.5 L314.3,1715.2 L317.7,1714.9 L321.1,1714.6 L324.6,1714.2 L328.0,1713.9 L331.5,1713.6 L334.9,1713.3 L338.3,1713.0 L341.8,1712.6 L345.2,1712.3 L348.7,1712.0 L352.1,1711.7 L355.6,1711.4 L359.0,1711.1 L362.4,1710.7 L365.9,1710.4 L369.3,1710.1 L372.8,1709.8 L376.2,1709.5 L379.6,1709.2 L383.1,1708.9 L386.5,1708.5 L390.0,1708.2 L393.4,1707.9 L396.8,1707.6 L400.3,1707.3 L403.7,1707.0 L407.2,1706.6 L410.6,1706.3 L414.0,1706.0 L417.5,1705.7 L420.9,1705.4 L424.4,1705.0 L427.8,1704.7 L431.2,1704.4 L434.7,1704.1 L438.1,1703.8 L441.6,1703.4 L445.0,1703.1 L448.4,1702.8 L451.9,1702.5 L455.3,1702.2 L458.8,1701.9 L462.2,1701.5 L465.7,1701.2 L469.1,1700.9 L472.5,1700.6 L476.0,1700.3 L479.4,1699.9 L482.9,1699.6 L486.3,1699.3 L489.7,1699.0 L493.2,1698.7 L496.6,1698.3 L500.1,1698.0 L503.5,1697.7 L506.9,1697.4 L510.4,1697.1 L513.8,1696.7 L517.3,1696.4 L520.7,1696.1 L524.1,1695.8 L527.6,1695.4 L531.0,1695.1 L534.5,1694.8 L537.9,1694.5 L541.3,1694.2 L544.8,1693.8 L548.2,1693.5 L551.7,1693.2 L555.1,1692.9 L558.6,1692.6 L562.0,1692.2 L565.4,1691.9 L568.9,1691.6 L572.3,1691.3 L575.8,1691.0 L579.2,1690.7 L582.6,1690.3 L586.1,1690.0 L589.5,1689.7 L593.0,1689.4 L596.4,1689.1 L599.8,1688.7 L603.3,1688.4 L606.7,1688.1 L610.2,1687.8 L613.6,1687.5 L617.0,1687.2 L620.5,1686.9 L623.9,1686.5 L627.4,1686.2 L630.8,1685.9 L634.2,1685.6 L637.7,1685.3 L641.1,1685.0 L644.6,1684.7 L648.0,1684.4 L651.4,1684.1 L654.9,1683.8 L658.3,1683.4 L661.8,1683.1 L665.2,1682.8 L668.7,1682.5 L672.1,1682.2 L675.5,1681.9 L679.0,1681.6 L682.4,1681.3 L685.9,1681.0 L689.3,1680.7 L692.7,1680.4 L696.2,1680.1 L699.6,1679.8 L703.1,1679.5 L706.5,1679.2 L709.9,1679.0 L713.4,1678.7 L716.8,1678.4 L720.3,1678.1 L723.7,1677.8 L727.1,1677.5 L730.6,1677.2 L734.0,1676.9 L737.5,1676.7 L740.9,1676.4 L744.3,1676.1 L747.8,1675.8 L751.2,1675.5 L754.7,1675.2 L758.1,1675.0 L761.6,1674.7 L765.0,1674.4 L768.4,1674.1 L771.9,1673.9 L775.3,1673.6 L778.8,1673.3 L782.2,1673.0 L785.6,1672.8 L789.1,1672.5 L792.5,1672.2 L796.0,1671.9 L799.4,1671.7 L802.8,1671.4 L806.3,1671.1 L809.7,1670.9 L813.2,1670.6 L816.6,1670.3 L820.0,1670.0 L823.5,1669.8 L826.9,1669.5 L830.4,1669.2 L833.8,1668.9 L837.2,1668.7 L840.7,1668.4 L844.1,1668.1 L847.6,1667.8 L851.0,1667.6 L854.4,1667.3 L857.9,1667.0 L861.3,1666.7 L864.8,1666.5 L868.2,1666.2 L871.7,1665.9 L875.1,1665.6 L878.5,1665.3 L882.0,1665.1 L885.4,1664.8 L888.9,1664.5 L892.3,1664.2 L895.7,1663.9 L899.2,1663.6 L902.6,1663.3 L906.1,1663.0 L909.5,1662.7 L912.9,1662.5 L916.4,1662.2 L919.8,1661.9 L923.3,1661.6 L926.7,1661.3 L930.1,1661.0 L933.6,1660.7 L937.0,1660.4 L940.5,1660.1 L943.9,1659.7 L947.3,1659.4 L950.8,1659.1 L954.2,1658.8 L957.7,1658.5 L961.1,1658.2 L964.6,1657.9 L968.0,1657.6 L971.4,1657.3 L974.9,1656.9 L978.3,1656.6 L981.8,1656.3 L985.2,1656.0 L988.6,1655.7 L992.1,1655.4 L995.5,1655.0 L999.0,1654.7 L1002.4,1654.4 L1005.8,1654.1 L1009.3,1653.7 L1012.7,1653.4 L1016.2,1653.1 L1019.6,1652.8 L1023.0,1652.5 L1026.5,1652.1 L1029.9,1651.8 L1033.4,1651.5 L1036.8,1651.1 L1040.2,1650.8 L1043.7,1650.5 L1047.1,1650.2 L1050.6,1649.8 L1054.0,1649.5 L1057.4,1649.2 L1060.9,1648.9 L1064.3,1648.5 L1067.8,1648.2 L1071.2,1647.9 L1074.7,1647.5 L1078.1,1647.2 L1081.5,1646.9 L1085.0,1646.5 L1088.4,1646.2 L1091.9,1645.9 L1095.3,1645.6 L1098.7,1645.2 L1102.2,1644.9 L1105.6,1644.6 L1109.1,1644.2 L1112.5,1643.9 L1115.9,1643.6 L1119.4,1643.3 L1122.8,1642.9 L1126.3,1642.6 L1129.7,1642.3 L1133.1,1642.0 L1136.6,1641.6 L1140.0,1641.3 L1143.5,1641.0 L1146.9,1640.7 L1150.3,1640.4 L1153.8,1640.0 L1157.2,1639.7 L1160.7,1639.4 L1164.1,1639.1 L1167.6,1638.8 L1171.0,1638.4 L1174.4,1638.1 L1177.9,1637.8 L1181.3,1637.5 L1184.8,1637.2 L1188.2,1636.9 L1191.6,1636.6 L1195.1,1636.3 L1198.5,1636.0 L1202.0,1635.7 L1205.4,1635.4 L1208.8,1635.1 L1212.3,1634.8 L1215.7,1634.5 L1219.2,1634.2 L1222.6,1633.9 L1226.0,1633.6 L1229.5,1633.3 L1232.9,1633.0 L1236.4,1632.7 L1239.8,1632.5 L1243.2,1632.2 L1246.7,1631.9 L1250.1,1631.6 L1253.6,1631.3 L1257.0,1631.1 L1260.5,1630.8 L1263.9,1630.5 L1267.3,1630.3 L1270.8,1630.0 L1274.2,1629.7 L1277.7,1629.5 L1281.1,1629.2 L1284.5,1629.0 L1288.0,1628.7 L1291.4,1628.5 L1294.9,1628.2 L1298.3,1628.0 L1301.7,1627.8 L1305.2,1627.5 L1308.6,1627.3 L1312.1,1627.1 L1315.5,1626.8 L1318.9,1626.6 L1322.4,1626.4 L1325.8,1626.2 L1329.3,1626.0 L1332.7,1625.7 L1336.1,1625.5 L1339.6,1625.3 L1343.0,1625.1 L1346.5,1624.9 L1349.9,1624.7 L1353.3,1624.5 L1356.8,1624.3 L1360.2,1624.2 L1363.7,1624.0 L1367.1,1623.8 L1370.6,1623.6 L1374.0,1623.4 L1377.4,1623.3 L1380.9,1623.1 L1384.3,1622.9 L1387.8,1622.8 L1391.2,1622.6 L1394.6,1622.4 L1398.1,1622.3 L1401.5,1622.1 L1405.0,1622.0 L1408.4,1621.8 L1411.8,1621.7 L1415.3,1621.6 L1418.7,1621.4 L1422.2,1621.3 L1425.6,1621.2 L1429.0,1621.0 L1432.5,1620.9 L1435.9,1620.8 L1439.4,1620.7 L1442.8,1620.6 L1446.2,1620.5 L1449.7,1620.4 L1453.1,1620.3 L1456.6,1620.2 L1460.0,1620.1 L1463.5,1620.0 L1466.9,1619.9 L1470.3,1619.8 L1473.8,1619.8 L1477.2,1619.7 L1480.7,1619.6 L1484.1,1619.6 L1487.5,1619.5 L1491.0,1619.4 L1494.4,1619.4 L1497.9,1619.3 L1501.3,1619.3 L1504.7,1619.2 L1508.2,1619.2 L1511.6,1619.1 L1515.1,1619.1 L1518.5,1619.1 L1521.9,1619.0 L1525.4,1619.0 L1528.8,1619.0 L1532.3,1619.0 L1535.7,1618.9 L1539.1,1618.9 L1542.6,1618.9 L1546.0,1618.9 L1549.5,1618.9 L1552.9,1618.9 L1556.3,1618.8 L1559.8,1618.8 L1563.2,1618.8 L1566.7,1618.8 L1570.1,1618.8 L1573.6,1618.8 L1577.0,1618.8 L1580.4,1618.8 L1583.9,1618.8 L1587.3,1618.9 L1590.8,1618.9 L1594.2,1618.9 L1597.6,1618.9 L1601.1,1618.9 L1604.5,1618.9 L1608.0,1618.9 L1611.4,1619.0 L1614.8,1619.0 L1618.3,1619.0 L1621.7,1619.0 L1625.2,1619.1 L1628.6,1619.1 L1632.0,1619.1 L1635.5,1619.2 L1638.9,1619.2 L1642.4,1619.3 L1645.8,1619.3 L1649.2,1619.4 L1652.7,1619.5 L1656.1,1619.5 L1659.6,1619.6 L1663.0,1619.7 L1666.5,1619.8 L1669.9,1619.8 L1673.3,1619.9 L1676.8,1620.0 L1680.2,1620.1 L1683.7,1620.2 L1687.1,1620.3 L1690.5,1620.4 L1694.0,1620.6 L1697.4,1620.7 L1700.9,1620.8 L1704.3,1620.9 L1707.7,1621.0 L1711.2,1621.2 L1714.6,1621.3 L1718.1,1621.4 L1721.5,1621.6 L1724.9,1621.7 L1728.4,1621.9 L1731.8,1622.0 L1735.3,1622.2 L1738.7,1622.3 L1742.1,1622.5 L1745.6,1622.7 L1749.0,1622.8 L1752.5,1623.0 L1755.9,1623.2 L1759.3,1623.3 L1762.8,1623.5 L1766.2,1623.7 L1769.7,1623.9 L1773.1,1624.1 L1776.6,1624.3 L1780.0,1624.4 L1783.4,1624.6 L1786.9,1624.8 L1790.3,1625.0 L1793.8,1625.2 L1797.2,1625.4 L1800.6,1625.6 L1804.1,1625.8 L1807.5,1626.0 L1811.0,1626.2 L1814.4,1626.4 L1817.8,1626.6 L1821.3,1626.8 L1824.7,1627.0 L1828.2,1627.3 L1831.6,1627.5 L1835.0,1627.7 L1838.5,1627.9 L1841.9,1628.1 L1845.4,1628.3 L1848.8,1628.5 L1852.2,1628.8 L1855.7,1629.0 L1859.1,1629.2 L1862.6,1629.4 L1866.0,1629.7 L1869.5,1629.9 L1872.9,1630.1 L1876.3,1630.4 L1879.8,1630.6 L1883.2,1630.8 L1886.7,1631.1 L1890.1,1631.3 L1893.5,1631.5 L1897.0,1631.8 L1900.4,1632.0 L1903.9,1632.3 L1907.3,1632.5 L1910.7,1632.8 L1914.2,1633.0 L1917.6,1633.3 L1921.1,1633.5 L1924.5,1633.8 L1927.9,1634.1 L1931.4,1634.3 L1934.8,1634.6 L1938.3,1634.9 L1941.7,1635.1 L1945.1,1635.4 L1948.6,1635.7 L1952.0,1636.0 L1955.5,1636.2 L1958.9,1636.5 L1962.3,1636.8 L1965.8,1637.1 L1969.2,1637.4 L1972.7,1637.7 L1976.1,1638.0 L1979.6,1638.3 L1983.0,1638.6 L1986.4,1638.9 L1989.9,1639.2 L1993.3,1639.5 L1996.8,1639.8 L2000.2,1640.2 L2003.6,1640.5 L2007.1,1640.8 L2010.5,1641.1 L2014.0,1641.5 L2017.4,1641.8" fill="none" stroke="#164c90" stroke-width="7.2" stroke-linecap="round" stroke-linejoin="round"/>
<path d="M173.7,1807.7 L177.0,1807.7 L180.3,1807.7 L183.6,1807.8 L186.9,1807.8 L190.2,1807.8 L193.5,1807.8 L196.8,1807.9 L200.1,1807.9 L203.4,1807.9 L206.7,1807.9 L210.0,1807.9 L213.3,1808.0 L216.6,1808.0 L219.9,1808.0 L223.2,1808.0 L226.5,1808.1 L229.8,1808.1 L233.1,1808.1 L236.4,1808.1 L239.8,1808.1 L243.1,1808.2 L246.4,1808.2 L249.7,1808.2 L253.0,1808.2 L256.3,1808.2 L259.6,1808.3 L262.9,1808.3 L266.2,1808.3 L269.5,1808.3 L272.8,1808.3 L276.1,1808.4 L279.4,1808.4 L282.7,1808.4 L286.0,1808.4 L289.3,1808.4 L292.6,1808.5 L295.9,1808.5 L299.2,1808.5 L302.5,1808.5" fill="none" stroke="#050507" stroke-width="2.0"/>
<path d="M300.5,1808.5 L303.9,1808.5 L307.4,1808.5 L310.8,1808.6 L314.3,1808.6 L317.7,1808.6 L321.1,1808.6 L324.6,1808.6 L328.0,1808.6 L331.5,1808.7 L334.9,1808.7 L338.3,1808.7 L341.8,1808.7 L345.2,1808.7 L348.7,1808.7 L352.1,1808.7 L355.5,1808.8 L359.0,1808.8 L362.4,1808.8 L365.9,1808.8 L369.3,1808.8 L372.7,1808.8 L376.2,1808.8 L379.6,1808.9 L383.1,1808.9 L386.5,1808.9 L389.9,1808.9 L393.4,1808.9 L396.8,1808.9 L400.3,1808.9 L403.7,1808.9 L407.1,1808.9 L410.6,1809.0 L414.0,1809.0 L417.5,1809.0 L420.9,1809.0 L424.3,1809.0 L427.8,1809.0 L431.2,1809.0 L434.7,1809.0 L438.1,1809.0 L441.5,1809.0 L445.0,1809.0 L448.4,1809.1 L451.9,1809.1 L455.3,1809.1 L458.7,1809.1 L462.2,1809.1 L465.6,1809.1 L469.1,1809.1 L472.5,1809.1 L475.9,1809.1 L479.4,1809.1 L482.8,1809.1 L486.3,1809.1 L489.7,1809.1 L493.1,1809.1 L496.6,1809.1 L500.0,1809.2 L503.5,1809.2 L506.9,1809.2 L510.3,1809.2 L513.8,1809.2 L517.2,1809.2 L520.7,1809.2 L524.1,1809.2 L527.5,1809.2 L531.0,1809.2 L534.4,1809.2 L537.9,1809.2 L541.3,1809.2 L544.7,1809.2 L548.2,1809.2 L551.6,1809.2 L555.1,1809.2 L558.5,1809.2 L561.9,1809.2 L565.4,1809.2 L568.8,1809.2 L572.3,1809.2 L575.7,1809.2 L579.1,1809.2 L582.6,1809.2 L586.0,1809.2 L589.4,1809.2 L592.9,1809.2 L596.3,1809.2 L599.8,1809.2 L603.2,1809.2 L606.6,1809.2 L610.1,1809.2 L613.5,1809.2 L617.0,1809.2 L620.4,1809.2 L623.8,1809.2 L627.3,1809.2 L630.7,1809.2 L634.2,1809.2 L637.6,1809.2 L641.0,1809.2 L644.5,1809.2 L647.9,1809.2 L651.4,1809.2 L654.8,1809.2 L658.2,1809.2 L661.7,1809.2 L665.1,1809.2 L668.6,1809.2 L672.0,1809.2 L675.4,1809.2 L678.9,1809.3 L682.3,1809.3 L685.8,1809.3 L689.2,1809.3 L692.6,1809.3 L696.1,1809.3 L699.5,1809.3 L703.0,1809.3 L706.4,1809.3 L709.8,1809.3 L713.3,1809.3 L716.7,1809.3 L720.2,1809.3 L723.6,1809.3 L727.0,1809.3 L730.5,1809.3 L733.9,1809.3 L737.4,1809.3 L740.8,1809.3 L744.2,1809.3 L747.7,1809.3 L751.1,1809.3 L754.6,1809.3 L758.0,1809.3 L761.4,1809.3 L764.9,1809.3 L768.3,1809.3 L771.8,1809.3 L775.2,1809.3 L778.6,1809.4 L782.1,1809.4 L785.5,1809.4 L789.0,1809.4 L792.4,1809.4 L795.8,1809.4 L799.3,1809.4 L802.7,1809.4 L806.2,1809.4 L809.6,1809.4 L813.0,1809.4 L816.5,1809.4 L819.9,1809.5 L823.4,1809.5 L826.8,1809.5 L830.2,1809.5 L833.7,1809.5 L837.1,1809.5 L840.6,1809.5 L844.0,1809.5 L847.4,1809.5 L850.9,1809.6 L854.3,1809.6 L857.8,1809.6 L861.2,1809.6 L864.6,1809.6 L868.1,1809.6 L871.5,1809.6 L875.0,1809.6 L878.4,1809.6 L881.8,1809.7 L885.3,1809.7 L888.7,1809.7 L892.2,1809.7 L895.6,1809.7 L899.0,1809.7 L902.5,1809.7 L905.9,1809.7 L909.4,1809.8 L912.8,1809.8 L916.2,1809.8 L919.7,1809.8 L923.1,1809.8 L926.6,1809.8 L930.0,1809.8 L933.4,1809.8 L936.9,1809.8 L940.3,1809.8 L943.8,1809.9 L947.2,1809.9 L950.6,1809.9 L954.1,1809.9 L957.5,1809.9 L961.0,1809.9 L964.4,1809.9 L967.8,1809.9 L971.3,1809.9 L974.7,1809.9 L978.2,1809.9 L981.6,1809.9 L985.0,1809.9 L988.5,1809.9 L991.9,1809.9 L995.4,1810.0 L998.8,1810.0 L1002.2,1810.0 L1005.7,1810.0 L1009.1,1810.0 L1012.6,1810.0 L1016.0,1810.0 L1019.4,1810.0 L1022.9,1810.0 L1026.3,1810.0 L1029.8,1810.0 L1033.2,1810.0 L1036.6,1810.0 L1040.1,1810.0 L1043.5,1809.9 L1047.0,1809.9 L1050.4,1809.9 L1053.8,1809.9 L1057.3,1809.9 L1060.7,1809.9 L1064.2,1809.9 L1067.6,1809.9 L1071.0,1809.9 L1074.5,1809.9 L1077.9,1809.9 L1081.4,1809.8 L1084.8,1809.8 L1088.2,1809.8 L1091.7,1809.8 L1095.1,1809.8 L1098.6,1809.8 L1102.0,1809.8 L1105.4,1809.7 L1108.9,1809.7 L1112.3,1809.7 L1115.8,1809.7 L1119.2,1809.7 L1122.6,1809.6 L1126.1,1809.6 L1129.5,1809.6 L1133.0,1809.6 L1136.4,1809.5 L1139.8,1809.5 L1143.3,1809.5 L1146.7,1809.4 L1150.2,1809.4 L1153.6,1809.4 L1157.0,1809.3 L1160.5,1809.3 L1163.9,1809.3 L1167.3,1809.2 L1170.8,1809.2 L1174.2,1809.2 L1177.7,1809.1 L1181.1,1809.1 L1184.5,1809.1 L1188.0,1809.0 L1191.4,1809.0 L1194.9,1808.9 L1198.3,1808.9 L1201.7,1808.8 L1205.2,1808.8 L1208.6,1808.8 L1212.1,1808.7 L1215.5,1808.7 L1218.9,1808.6 L1222.4,1808.6 L1225.8,1808.5 L1229.3,1808.5 L1232.7,1808.4 L1236.1,1808.4 L1239.6,1808.3 L1243.0,1808.3 L1246.5,1808.2 L1249.9,1808.2 L1253.3,1808.1 L1256.8,1808.0 L1260.2,1808.0 L1263.7,1807.9 L1267.1,1807.9 L1270.5,1807.8 L1274.0,1807.7 L1277.4,1807.7 L1280.9,1807.6 L1284.3,1807.6 L1287.7,1807.5 L1291.2,1807.4 L1294.6,1807.4 L1298.1,1807.3 L1301.5,1807.2 L1304.9,1807.1 L1308.4,1807.1 L1311.8,1807.0 L1315.3,1806.9 L1318.7,1806.9 L1322.1,1806.8 L1325.6,1806.7 L1329.0,1806.6 L1332.5,1806.6 L1335.9,1806.5 L1339.3,1806.4 L1342.8,1806.3 L1346.2,1806.2 L1349.7,1806.1 L1353.1,1806.1 L1356.5,1806.0 L1360.0,1805.9 L1363.4,1805.8 L1366.9,1805.7 L1370.3,1805.6 L1373.7,1805.5 L1377.2,1805.4 L1380.6,1805.3 L1384.1,1805.2 L1387.5,1805.1 L1390.9,1805.0 L1394.4,1804.9 L1397.8,1804.8 L1401.3,1804.7 L1404.7,1804.6 L1408.1,1804.5 L1411.6,1804.4 L1415.0,1804.3 L1418.5,1804.2 L1421.9,1804.1 L1425.3,1804.0 L1428.8,1803.8 L1432.2,1803.7 L1435.7,1803.6 L1439.1,1803.5 L1442.5,1803.4 L1446.0,1803.2 L1449.4,1803.1 L1452.9,1803.0 L1456.3,1802.8 L1459.7,1802.7 L1463.2,1802.6 L1466.6,1802.4 L1470.1,1802.3 L1473.5,1802.2 L1476.9,1802.0 L1480.4,1801.9 L1483.8,1801.7 L1487.3,1801.6 L1490.7,1801.4 L1494.1,1801.3 L1497.6,1801.1 L1501.0,1801.0 L1504.5,1800.8 L1507.9,1800.7 L1511.3,1800.5 L1514.8,1800.3 L1518.2,1800.2 L1521.7,1800.0 L1525.1,1799.8 L1528.5,1799.7 L1532.0,1799.5 L1535.4,1799.3 L1538.9,1799.2 L1542.3,1799.0 L1545.7,1798.8 L1549.2,1798.6 L1552.6,1798.4 L1556.1,1798.2 L1559.5,1798.1 L1562.9,1797.9 L1566.4,1797.7 L1569.8,1797.5 L1573.3,1797.3 L1576.7,1797.1 L1580.1,1796.9 L1583.6,1796.7 L1587.0,1796.5 L1590.5,1796.3 L1593.9,1796.1 L1597.3,1795.9 L1600.8,1795.7 L1604.2,1795.4 L1607.7,1795.2 L1611.1,1795.0 L1614.5,1794.8 L1618.0,1794.6 L1621.4,1794.3 L1624.9,1794.1 L1628.3,1793.9 L1631.7,1793.6 L1635.2,1793.4 L1638.6,1793.2 L1642.1,1792.9 L1645.5,1792.7 L1648.9,1792.4 L1652.4,1792.2 L1655.8,1791.9 L1659.3,1791.7 L1662.7,1791.4 L1666.1,1791.2 L1669.6,1790.9 L1673.0,1790.6 L1676.5,1790.4 L1679.9,1790.1 L1683.3,1789.8 L1686.8,1789.5 L1690.2,1789.2 L1693.7,1789.0 L1697.1,1788.7 L1700.5,1788.4 L1704.0,1788.1 L1707.4,1787.8 L1710.9,1787.5 L1714.3,1787.2 L1717.7,1786.9 L1721.2,1786.6 L1724.6,1786.3 L1728.1,1786.0 L1731.5,1785.7 L1734.9,1785.4 L1738.4,1785.1 L1741.8,1784.7 L1745.2,1784.4 L1748.7,1784.1 L1752.1,1783.8 L1755.6,1783.4 L1759.0,1783.1 L1762.4,1782.8 L1765.9,1782.4 L1769.3,1782.1 L1772.8,1781.8 L1776.2,1781.4 L1779.6,1781.1 L1783.1,1780.8 L1786.5,1780.4 L1790.0,1780.1 L1793.4,1779.7 L1796.8,1779.4 L1800.3,1779.0 L1803.7,1778.7 L1807.2,1778.3 L1810.6,1778.0 L1814.0,1777.6 L1817.5,1777.2 L1820.9,1776.9 L1824.4,1776.5 L1827.8,1776.1 L1831.2,1775.8 L1834.7,1775.4 L1838.1,1775.0 L1841.6,1774.7 L1845.0,1774.3 L1848.4,1773.9 L1851.9,1773.5 L1855.3,1773.1 L1858.8,1772.7 L1862.2,1772.3 L1865.6,1771.9 L1869.1,1771.5 L1872.5,1771.1 L1876.0,1770.6 L1879.4,1770.2 L1882.8,1769.8 L1886.3,1769.3 L1889.7,1768.8 L1893.2,1768.4 L1896.6,1767.9 L1900.0,1767.4 L1903.5,1766.8 L1906.9,1766.3 L1910.4,1765.8 L1913.8,1765.2 L1917.2,1764.7 L1920.7,1764.1 L1924.1,1763.5 L1927.6,1762.9 L1931.0,1762.3 L1934.4,1761.6 L1937.9,1761.0 L1941.3,1760.3 L1944.8,1759.6 L1948.2,1758.9 L1951.6,1758.2 L1955.1,1757.5 L1958.5,1756.8 L1962.0,1756.0 L1965.4,1755.3 L1968.8,1754.5 L1972.3,1753.8 L1975.7,1753.0 L1979.2,1752.2 L1982.6,1751.4 L1986.0,1750.5 L1989.5,1749.7 L1992.9,1748.9 L1996.4,1748.0 L1999.8,1747.2 L2003.2,1746.3 L2006.7,1745.5 L2010.1,1744.6 L2013.6,1743.7 L2017.0,1742.8" fill="none" stroke="#050507" stroke-width="7.8" stroke-linecap="round" stroke-linejoin="round"/>
<path d="M236.0,1808.1 L243.3,1808.2 L250.7,1808.2 L258.0,1808.3 L265.3,1808.3 L272.7,1808.3 L280.0,1808.4 L287.3,1808.4 L294.7,1808.5 L302.0,1808.5" fill="none" stroke="#050507" stroke-width="4"/>
<rect x="173.7" y="1397.2" width="2024.1" height="5" fill="#57575b"/>
<rect x="171.7" y="1471.2" width="2028.1" height="3.8" fill="#404044"/>
<rect x="173.7" y="1965.8" width="2024.1" height="4.4" fill="#8d8d92"/>
<rect x="171.6" y="400.5" width="4.3" height="1016" fill="#0b0b10"/>
<rect x="2195.2" y="400.5" width="5.8" height="1002" fill="#0b0b10"/>
<rect x="2195.6" y="1400" width="2.5" height="16" fill="#2a2a2e"/>
<rect x="171.6" y="1471.2" width="4.3" height="498.8" fill="#0b0b10"/>
<rect x="2195.0" y="1471.2" width="5.6" height="498.8" fill="#0b0b10"/>
<rect x="157.3" y="1398.5" width="15" height="2.4" fill="#4a4a4e"/>
<rect x="157.3" y="1287.5" width="15" height="2.4" fill="#4a4a4e"/>
<rect x="157.3" y="1175.9" width="15" height="3.6" fill="#0c0c10"/>
<rect x="157.3" y="1065.5" width="15" height="2.4" fill="#4a4a4e"/>
<rect x="157.3" y="954.5" width="15" height="2.4" fill="#4a4a4e"/>
<rect x="157.3" y="843.5" width="15" height="2.4" fill="#4a4a4e"/>
<rect x="157.3" y="731.9" width="15" height="3.6" fill="#0c0c10"/>
<rect x="157.3" y="621.5" width="15" height="2.4" fill="#4a4a4e"/>
<rect x="2200" y="1398.5" width="14.6" height="2.4" fill="#4a4a4e"/>
<rect x="2200" y="1287.5" width="14.6" height="2.4" fill="#4a4a4e"/>
<rect x="2200" y="1175.9" width="14.6" height="3.6" fill="#0c0c10"/>
<rect x="2200" y="1065.5" width="14.6" height="2.4" fill="#4a4a4e"/>
<rect x="2200" y="954.5" width="14.6" height="2.4" fill="#4a4a4e"/>
<rect x="2200" y="843.5" width="14.6" height="2.4" fill="#4a4a4e"/>
<rect x="355.9" y="1400" width="3.2" height="16" fill="#2a2a2e"/>
<rect x="539.6" y="1400" width="3.2" height="16" fill="#2a2a2e"/>
<rect x="723.4" y="1400" width="3.2" height="16" fill="#2a2a2e"/>
<rect x="907.2" y="1400" width="3.2" height="16" fill="#2a2a2e"/>
<rect x="1091.0" y="1400" width="3.2" height="16" fill="#2a2a2e"/>
<rect x="1274.7" y="1400" width="3.2" height="16" fill="#2a2a2e"/>
<rect x="1458.5" y="1400" width="3.2" height="16" fill="#2a2a2e"/>
<rect x="1642.3" y="1400" width="3.2" height="16" fill="#2a2a2e"/>
<rect x="1826.0" y="1400" width="3.2" height="16" fill="#2a2a2e"/>
<rect x="2009.8" y="1400" width="3.2" height="16" fill="#2a2a2e"/>
<rect x="157.3" y="1966.8" width="15" height="2.4" fill="#4a4a4e"/>
<rect x="2200" y="1966.8" width="14.6" height="2.4" fill="#4a4a4e"/>
<rect x="157.3" y="1867.9" width="15" height="2.4" fill="#4a4a4e"/>
<rect x="2200" y="1867.9" width="14.6" height="2.4" fill="#4a4a4e"/>
<rect x="157.3" y="1768.4" width="15" height="3.6" fill="#0c0c10"/>
<rect x="2200" y="1768.4" width="14.6" height="3.6" fill="#0c0c10"/>
<rect x="157.3" y="1670.1" width="15" height="2.4" fill="#4a4a4e"/>
<rect x="2200" y="1670.1" width="14.6" height="2.4" fill="#4a4a4e"/>
<rect x="157.3" y="1571.2" width="15" height="2.4" fill="#4a4a4e"/>
<rect x="2200" y="1571.2" width="14.6" height="2.4" fill="#4a4a4e"/>
<text transform="translate(118.61,1411.5) scale(1.1342,1)" font-size="38" fill="#050508" font-family='"Liberation Sans", sans-serif' style="font-kerning:none" >0</text>
<text transform="translate(118.74,1300.5) scale(1.1342,1)" font-size="38" fill="#050508" font-family='"Liberation Sans", sans-serif' style="font-kerning:none" >5</text>
<text transform="translate(94.64,1189.5) scale(1.1342,1)" font-size="38" fill="#050508" font-family='"Liberation Sans", sans-serif' style="font-kerning:none" >10</text>
<text transform="translate(94.77,1078.5) scale(1.1342,1)" font-size="38" fill="#050508" font-family='"Liberation Sans", sans-serif' style="font-kerning:none" >15</text>
<text transform="translate(94.64,967.5) scale(1.1342,1)" font-size="38" fill="#050508" font-family='"Liberation Sans", sans-serif' style="font-kerning:none" >20</text>
<text transform="translate(94.77,856.5) scale(1.1342,1)" font-size="38" fill="#050508" font-family='"Liberation Sans", sans-serif' style="font-kerning:none" >25</text>
<text transform="translate(94.64,745.5) scale(1.1342,1)" font-size="38" fill="#050508" font-family='"Liberation Sans", sans-serif' style="font-kerning:none" >30</text>
<text transform="translate(94.77,634.5) scale(1.1342,1)" font-size="38" fill="#050508" font-family='"Liberation Sans", sans-serif' style="font-kerning:none" >35</text>
<text transform="translate(2223.12,1411.5) scale(1.1342,1)" font-size="38" fill="#050508" font-family='"Liberation Sans", sans-serif' style="font-kerning:none" >0</text>
<text transform="translate(2222.63,1300.5) scale(1.1342,1)" font-size="38" fill="#050508" font-family='"Liberation Sans", sans-serif' style="font-kerning:none" >20</text>
<text transform="translate(2223.81,1189.5) scale(1.1342,1)" font-size="38" fill="#050508" font-family='"Liberation Sans", sans-serif' style="font-kerning:none" >40</text>
<text transform="translate(2222.61,1078.5) scale(1.1342,1)" font-size="38" fill="#050508" font-family='"Liberation Sans", sans-serif' style="font-kerning:none" >60</text>
<text transform="translate(2222.93,967.5) scale(1.1342,1)" font-size="38" fill="#050508" font-family='"Liberation Sans", sans-serif' style="font-kerning:none" >80</text>
<text transform="translate(2224.12,856.5) scale(1.1342,1)" font-size="38" fill="#050508" font-family='"Liberation Sans", sans-serif' style="font-kerning:none" >100</text>
<text transform="translate(160.21,1451.4) scale(1.1342,1)" font-size="38" fill="#050508" font-family='"Liberation Sans", sans-serif' style="font-kerning:none" >0</text>
<text transform="translate(332.00,1451.4) scale(1.1342,1)" font-size="38" fill="#050508" font-family='"Liberation Sans", sans-serif' style="font-kerning:none" >10</text>
<text transform="translate(515.77,1451.4) scale(1.1342,1)" font-size="38" fill="#050508" font-family='"Liberation Sans", sans-serif' style="font-kerning:none" >20</text>
<text transform="translate(699.54,1451.4) scale(1.1342,1)" font-size="38" fill="#050508" font-family='"Liberation Sans", sans-serif' style="font-kerning:none" >30</text>
<text transform="translate(883.31,1451.4) scale(1.1342,1)" font-size="38" fill="#050508" font-family='"Liberation Sans", sans-serif' style="font-kerning:none" >40</text>
<text transform="translate(1067.08,1451.4) scale(1.1342,1)" font-size="38" fill="#050508" font-family='"Liberation Sans", sans-serif' style="font-kerning:none" >50</text>
<text transform="translate(1250.85,1451.4) scale(1.1342,1)" font-size="38" fill="#050508" font-family='"Liberation Sans", sans-serif' style="font-kerning:none" >60</text>
<text transform="translate(1434.62,1451.4) scale(1.1342,1)" font-size="38" fill="#050508" font-family='"Liberation Sans", sans-serif' style="font-kerning:none" >70</text>
<text transform="translate(1618.39,1451.4) scale(1.1342,1)" font-size="38" fill="#050508" font-family='"Liberation Sans", sans-serif' style="font-kerning:none" >80</text>
<text transform="translate(1802.16,1451.4) scale(1.1342,1)" font-size="38" fill="#050508" font-family='"Liberation Sans", sans-serif' style="font-kerning:none" >90</text>
<text transform="translate(2039.86,1451.4) scale(1.0782,1)" font-size="38" fill="#050508" font-family='"Liberation Sans", sans-serif' style="font-kerning:none" >Q [м³/ч]</text>
<text transform="translate(118.61,1979.8) scale(1.1342,1)" font-size="38" fill="#050508" font-family='"Liberation Sans", sans-serif' style="font-kerning:none" >0</text>
<text transform="translate(2223.12,1979.8) scale(1.1342,1)" font-size="38" fill="#050508" font-family='"Liberation Sans", sans-serif' style="font-kerning:none" >0</text>
<text transform="translate(119.10,1880.9) scale(1.1342,1)" font-size="38" fill="#050508" font-family='"Liberation Sans", sans-serif' style="font-kerning:none" >2</text>
<text transform="translate(2222.63,1880.9) scale(1.1342,1)" font-size="38" fill="#050508" font-family='"Liberation Sans", sans-serif' style="font-kerning:none" >2</text>
<text transform="translate(118.19,1782.0) scale(1.1342,1)" font-size="38" fill="#050508" font-family='"Liberation Sans", sans-serif' style="font-kerning:none" >4</text>
<text transform="translate(2223.81,1782.0) scale(1.1342,1)" font-size="38" fill="#050508" font-family='"Liberation Sans", sans-serif' style="font-kerning:none" >4</text>
<text transform="translate(118.82,1683.1) scale(1.1342,1)" font-size="38" fill="#050508" font-family='"Liberation Sans", sans-serif' style="font-kerning:none" >6</text>
<text transform="translate(2222.61,1683.1) scale(1.1342,1)" font-size="38" fill="#050508" font-family='"Liberation Sans", sans-serif' style="font-kerning:none" >6</text>
<text transform="translate(73.05,431.3) scale(1.1401,1)" font-size="38" fill="#050508" font-family='"Liberation Sans", sans-serif' style="font-kerning:none" >H</text>
<text transform="translate(60.72,479.4) scale(1.1381,1)" font-size="38" fill="#050508" font-family='"Liberation Sans", sans-serif' style="font-kerning:none" >[м]</text>
<text transform="translate(2261.24,430.7) scale(1.0896,1)" font-size="38" fill="#050508" font-family='"Liberation Sans", sans-serif' style="font-kerning:none" >eta</text>
<text transform="translate(2260.96,479.4) scale(1.1215,1)" font-size="38" fill="#050508" font-family='"Liberation Sans", sans-serif' style="font-kerning:none" >[%]</text>
<text transform="translate(69.06,1503.4) scale(1.1372,1)" font-size="38" fill="#050508" font-family='"Liberation Sans", sans-serif' style="font-kerning:none" >P</text>
<text transform="translate(36.88,1551.4) scale(1.1136,1)" font-size="38" fill="#050508" font-family='"Liberation Sans", sans-serif' style="font-kerning:none" >[кВт]</text>
<text transform="translate(2241.11,1503.6) scale(1.0890,1)" font-size="38" fill="#050508" font-family='"Liberation Sans", sans-serif' style="font-kerning:none" >NPSH</text>
<text transform="translate(2268.85,1551.4) scale(1.1262,1)" font-size="38" fill="#050508" font-family='"Liberation Sans", sans-serif' style="font-kerning:none" >[м]</text>
<text transform="translate(1671.09,443.2) scale(1.1066,1)" font-size="38" fill="#050508" font-family='"Liberation Sans", sans-serif' style="font-kerning:none" >SP 77-2-BN, 3*230 V, 50Hz</text>
<text transform="translate(222.65,447.2) scale(0.9028,1)" font-size="48" fill="#ffffff" font-family='"DejaVu Sans", "Liberation Sans", sans-serif' style="font-kerning:none" >Рабочие характеристики насоса</text>
</svg>
</body></html>
